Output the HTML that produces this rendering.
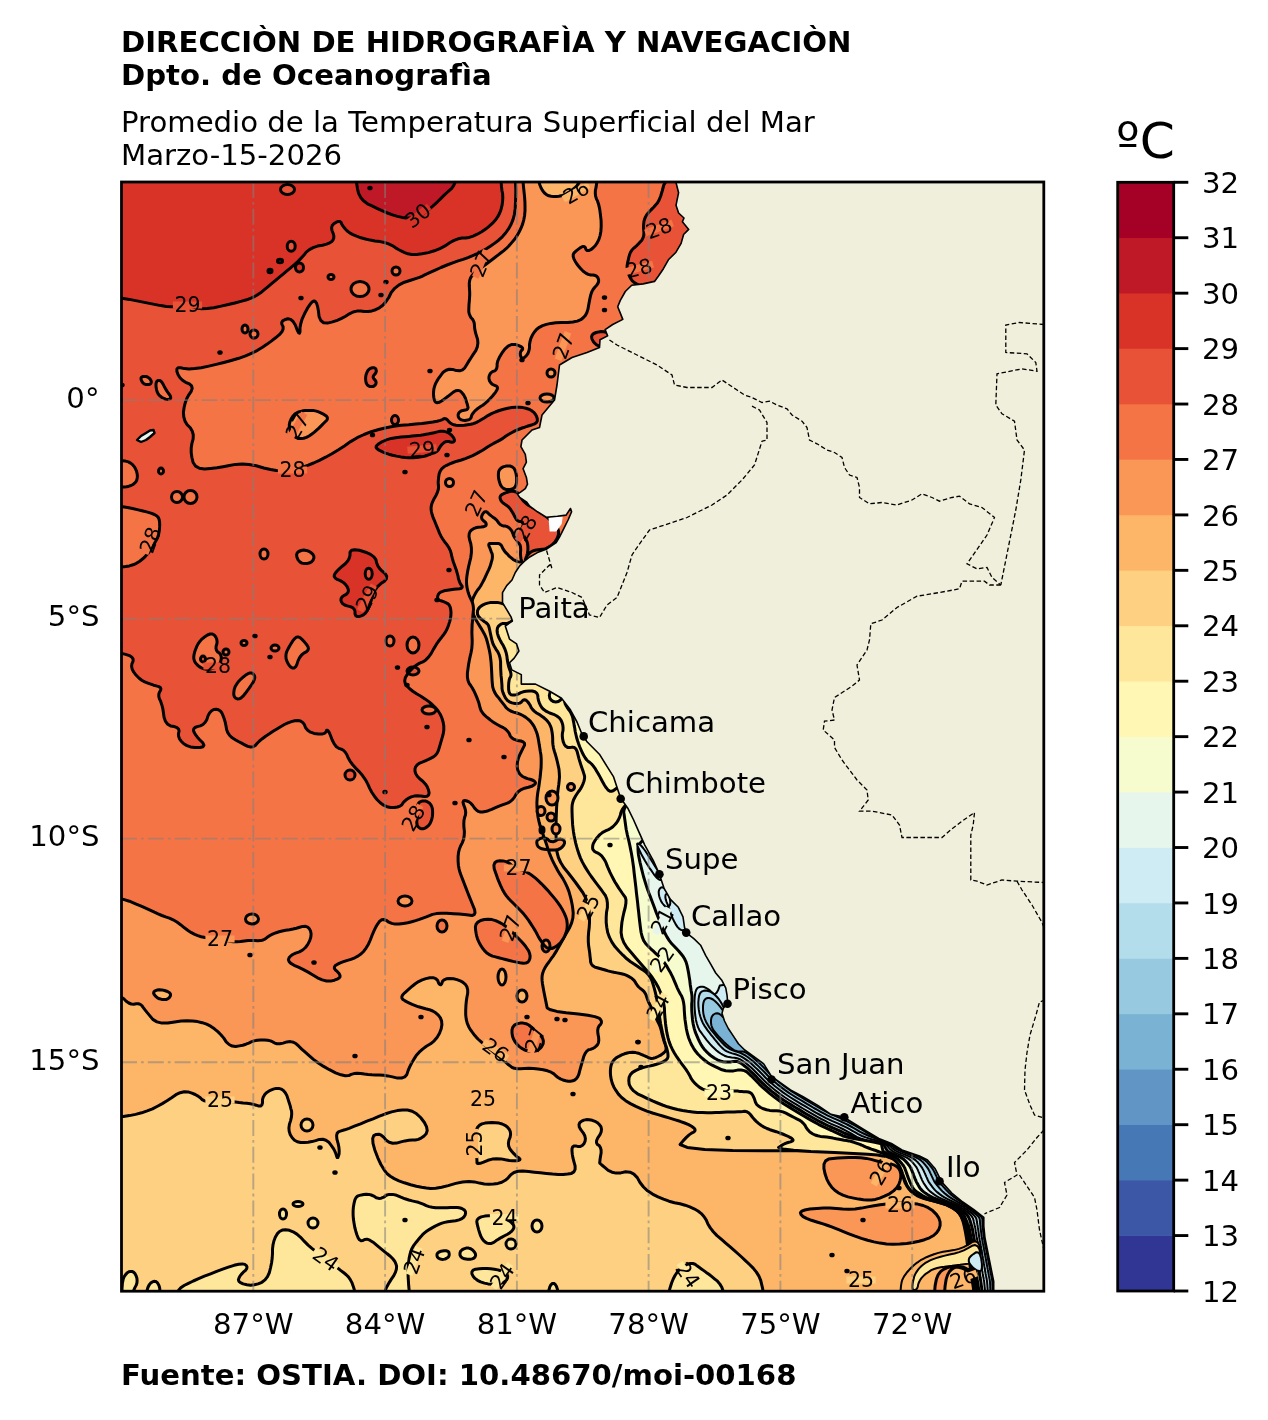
<!DOCTYPE html>
<html><head><meta charset="utf-8"><title>TSM</title>
<style>html,body{margin:0;padding:0;background:#fff;width:1268px;height:1420px;overflow:hidden}svg{display:block}text{font-family:'DejaVu Sans','Liberation Sans',sans-serif;fill:#000;font-variant-ligatures:none;font-kerning:normal}</style>
</head><body>
<svg width="1268" height="1420" viewBox="0 0 1268 1420">
<defs><clipPath id="mc"><rect x="121.5" y="182.0" width="922.3" height="1109.2"/></clipPath></defs>
<text x="121" y="51.8" font-weight="bold" font-size="29.17">DIRECCIÒN DE HIDROGRAFÌA Y NAVEGACIÒN</text>
<text x="121" y="85.1" font-weight="bold" font-size="29.17">Dpto. de Oceanografìa</text>
<text x="121" y="131.8" font-size="29.17">Promedio de la Temperatura Superficial del Mar</text>
<text x="121" y="165.1" font-size="29.17">Marzo-15-2026</text>
<text x="121" y="1384.6" font-weight="bold" font-size="29.17">Fuente: OSTIA. DOI: 10.48670/moi-00168</text>
<g clip-path="url(#mc)">
<rect x="100" y="170" width="960" height="1140" fill="#fed081"/>
<path d="M100.0,170.0L1060.0,170.0L1060.0,610.0L752.9,611.7L615.9,611.9L546.8,611.3L511.4,610.0L509.6,608.0L507.7,606.3L505.6,604.9L503.2,603.9L500.8,603.1L498.2,602.6L495.6,602.4L492.9,602.4L490.1,602.6L487.6,603.1L485.2,603.9L483.0,604.9L481.0,606.1L479.4,607.5L478.3,609.0L477.6,610.6L477.4,612.4L477.5,614.0L478.0,615.5L478.9,616.9L480.1,618.1L481.4,619.3L482.8,620.4L484.2,621.5L485.8,622.5L487.0,623.5L487.9,624.5L488.5,625.5L488.8,626.5L489.2,627.8L489.6,629.5L490.0,631.5L490.5,633.9L491.0,636.1L491.4,638.2L491.9,640.2L492.4,642.1L493.2,644.2L494.4,646.5L495.9,649.1L497.8,651.9L499.2,654.9L500.1,658.2L500.6,661.7L500.6,665.4L500.7,669.0L500.9,672.5L501.1,675.9L501.5,679.1L501.7,682.0L501.9,684.5L502.0,686.6L502.0,688.4L502.3,690.4L503.0,692.6L504.1,695.2L505.4,697.9L507.2,700.2L509.4,701.8L512.0,702.9L515.1,703.5L517.6,703.5L519.7,703.1L521.2,702.2L522.3,700.9L523.5,700.0L524.6,699.8L525.7,700.0L526.8,700.9L527.9,702.0L529.0,703.5L530.2,705.4L531.2,707.6L532.7,709.6L534.5,711.4L536.6,713.0L539.1,714.3L541.4,715.9L543.6,717.5L545.7,719.3L547.6,721.3L549.2,723.4L550.4,725.8L551.3,728.3L551.9,731.1L552.3,733.8L552.6,736.6L552.7,739.3L552.7,742.1L553.0,745.0L553.5,748.1L554.4,751.4L555.5,754.8L556.5,758.3L557.4,762.0L558.2,765.6L559.0,769.4L559.3,773.1L559.5,776.9L559.2,780.6L558.8,784.4L558.3,787.8L557.9,790.9L557.6,793.8L557.4,796.2L557.1,799.4L556.9,803.1L556.6,807.5L556.4,812.5L556.2,817.5L556.1,822.5L556.0,827.5L556.0,832.5L556.1,837.5L556.3,842.5L556.6,847.5L557.1,852.5L558.4,857.5L560.7,862.5L563.8,867.5L567.9,872.5L571.8,877.5L575.6,882.5L579.2,887.5L582.8,892.5L585.5,897.5L587.5,902.5L588.8,907.5L589.2,912.5L589.5,917.5L589.5,922.5L589.2,927.5L588.6,932.5L588.3,937.2L588.3,941.6L588.6,945.6L589.2,949.4L589.7,952.9L590.0,956.1L590.4,959.1L590.6,961.9L591.4,964.1L592.8,965.8L594.8,967.1L597.2,967.8L599.8,968.5L602.5,969.2L605.2,970.0L607.9,970.9L610.8,971.6L613.9,972.3L617.1,972.9L620.4,973.5L623.4,974.2L626.1,975.2L628.6,976.4L630.9,977.7L632.7,979.2L634.3,980.7L635.4,982.3L636.3,983.9L637.4,985.5L638.7,987.0L640.4,988.5L642.3,989.9L643.9,991.4L645.1,993.1L646.0,994.9L646.6,996.8L647.3,998.8L648.1,1000.9L649.0,1003.0L650.1,1005.2L651.2,1007.5L652.3,1009.8L653.4,1012.2L654.6,1014.8L655.7,1017.2L656.8,1019.5L657.9,1021.8L659.0,1024.0L660.0,1026.3L660.8,1028.8L661.5,1031.4L662.1,1034.2L662.8,1036.9L663.6,1039.7L664.5,1042.5L665.6,1045.2L666.1,1047.7L666.0,1049.7L665.2,1051.5L663.9,1052.8L662.2,1054.1L660.3,1055.4L658.0,1056.5L655.5,1057.6L653.3,1058.3L651.2,1058.4L649.3,1058.1L647.7,1057.2L645.8,1056.3L643.6,1055.4L641.1,1054.3L638.3,1053.2L635.6,1052.6L632.8,1052.3L630.0,1052.4L627.3,1053.0L624.5,1053.8L621.7,1054.9L619.0,1056.3L616.2,1057.9L614.0,1059.9L612.4,1062.1L611.3,1064.6L610.7,1067.3L610.4,1070.3L610.4,1073.3L610.7,1076.6L611.3,1079.9L612.3,1083.4L613.8,1086.9L615.9,1090.4L618.4,1094.1L621.6,1097.5L625.6,1100.7L630.4,1103.6L635.9,1106.4L641.4,1108.8L646.9,1111.1L652.5,1113.0L658.0,1114.6L663.5,1116.3L669.0,1117.9L674.5,1119.6L680.0,1121.3L684.7,1123.0L688.6,1124.6L691.6,1126.3L693.9,1127.9L695.0,1129.4L695.0,1130.8L693.9,1132.0L691.6,1133.1L689.1,1134.9L686.4,1137.4L683.3,1140.6L680.1,1144.5L687.2,1147.4L704.7,1149.5L732.6,1150.6L770.8,1150.7L800.4,1150.8L821.1,1150.7L833.0,1150.6L836.2,1150.2L839.3,1150.1L842.5,1150.1L845.7,1150.2L848.8,1150.6L852.0,1150.7L855.2,1150.7L858.3,1150.6L861.5,1150.2L864.6,1150.1L867.8,1150.1L870.9,1150.2L874.1,1150.6L877.2,1150.9L880.4,1151.4L883.5,1152.0L886.7,1152.6L889.6,1153.5L892.2,1154.6L894.6,1156.0L896.8,1157.6L898.6,1159.6L900.2,1161.8L901.5,1164.5L902.5,1167.5L903.6,1170.6L904.7,1173.9L905.9,1177.2L907.1,1180.8L908.6,1183.9L910.4,1186.8L912.4,1189.4L914.6,1191.6L917.2,1193.6L920.1,1195.2L923.2,1196.5L926.8,1197.5L930.2,1198.5L933.8,1199.5L937.2,1200.5L940.8,1201.5L944.1,1202.6L947.2,1203.9L950.1,1205.2L952.9,1206.8L955.3,1208.6L957.4,1210.7L959.2,1213.1L960.8,1215.9L962.1,1218.9L963.2,1222.1L964.1,1225.6L964.9,1229.4L965.6,1233.0L966.2,1236.5L966.8,1239.9L967.2,1243.1L967.8,1246.6L968.2,1250.4L968.8,1254.4L969.2,1258.6L969.8,1262.8L970.2,1266.8L970.8,1270.6L971.2,1274.4L971.8,1277.9L972.2,1281.1L972.8,1284.1L973.2,1286.9L973.6,1289.5L973.9,1292.0L974.0,1294.9L974.0,1300.0L763.4,1300.0L763.4,1294.9L763.1,1291.6L762.6,1288.4L761.7,1284.6L760.7,1280.3L758.9,1276.1L756.4,1272.1L753.2,1268.1L749.3,1264.3L745.4,1260.6L741.6,1257.0L737.7,1253.5L733.9,1250.2L729.9,1246.7L725.7,1243.1L721.5,1239.4L717.0,1235.6L713.3,1231.7L710.3,1227.9L707.9,1224.0L706.3,1220.1L704.1,1216.7L701.3,1213.6L698.0,1211.0L694.1,1208.8L689.8,1206.9L685.1,1205.2L680.0,1203.8L674.5,1202.7L669.0,1201.2L663.5,1199.2L658.0,1196.9L652.5,1194.1L647.6,1190.8L643.5,1187.0L640.0,1182.5L637.3,1177.6L633.9,1174.1L630.1,1172.2L625.6,1171.8L620.7,1172.9L616.1,1173.1L612.0,1172.2L608.2,1170.4L605.0,1167.7L602.4,1165.5L600.7,1164.0L599.8,1163.1L599.7,1162.9L599.8,1161.8L600.0,1159.8L600.4,1156.9L601.1,1153.1L601.1,1150.0L600.4,1147.5L599.2,1145.6L597.3,1144.4L596.5,1142.7L596.6,1140.5L597.8,1137.8L600.0,1134.7L601.2,1131.8L601.5,1129.1L600.9,1126.7L599.3,1124.5L597.4,1122.7L595.0,1121.3L592.3,1120.3L589.2,1119.7L586.4,1119.6L583.9,1120.1L581.7,1121.1L579.8,1122.7L579.0,1124.6L579.3,1127.0L580.8,1129.7L583.2,1132.8L584.8,1135.8L585.4,1138.6L585.1,1141.2L583.9,1143.8L582.3,1145.5L580.4,1146.4L578.2,1146.6L575.8,1145.9L573.9,1146.1L572.6,1147.0L572.0,1148.8L572.0,1151.2L572.3,1154.2L572.9,1157.7L573.9,1161.6L575.1,1165.9L575.1,1169.4L573.9,1171.9L571.4,1173.4L567.6,1174.1L563.2,1174.4L558.2,1174.4L552.6,1174.1L546.4,1173.4L540.3,1172.8L534.3,1172.2L528.6,1171.6L522.9,1170.9L518.1,1171.2L514.0,1172.5L510.8,1174.7L508.2,1177.8L505.3,1180.3L501.8,1182.2L497.9,1183.4L493.6,1184.1L489.0,1184.2L484.3,1183.9L479.5,1183.1L474.5,1181.9L468.9,1181.5L462.6,1182.0L455.8,1183.4L448.2,1185.6L441.6,1187.2L435.7,1188.2L430.6,1188.4L426.4,1188.1L421.6,1187.3L416.4,1186.2L410.6,1184.7L404.4,1182.8L398.9,1180.8L394.2,1178.6L390.3,1176.2L387.2,1173.8L384.1,1169.8L380.9,1164.5L377.8,1157.8L374.7,1149.7L373.0,1143.3L372.7,1138.6L373.8,1135.6L376.2,1134.4L378.8,1134.2L381.2,1135.2L383.8,1137.2L386.2,1140.3L389.2,1142.3L392.7,1143.3L396.6,1143.1L400.9,1141.9L405.0,1140.9L408.8,1140.3L412.2,1140.0L415.3,1140.0L418.3,1139.4L421.1,1138.1L423.8,1136.2L426.2,1133.8L427.2,1130.6L426.6,1126.9L424.4,1122.5L420.6,1117.5L416.6,1113.8L412.2,1111.2L407.5,1110.0L402.5,1110.0L397.2,1110.6L391.6,1111.9L385.6,1113.8L379.4,1116.2L373.1,1118.8L366.9,1121.2L360.6,1123.8L354.4,1126.2L349.1,1128.3L344.7,1129.8L341.2,1130.9L338.8,1131.6L337.2,1133.1L336.6,1135.6L336.9,1139.1L338.1,1143.4L338.9,1147.3L339.2,1150.8L339.1,1153.8L338.4,1156.2L337.8,1157.5L337.2,1157.5L336.6,1156.2L335.9,1153.8L334.8,1151.1L333.3,1148.3L331.2,1145.3L328.8,1142.2L325.9,1140.2L322.8,1139.2L319.4,1139.4L315.6,1140.6L311.9,1141.6L308.1,1142.2L304.4,1142.5L300.6,1142.5L297.3,1141.7L294.5,1140.2L292.2,1137.8L290.3,1134.7L289.2,1131.4L288.9,1128.0L289.4,1124.4L290.6,1120.6L291.4,1117.2L291.7,1114.1L291.6,1111.2L290.9,1108.8L290.2,1105.9L289.2,1102.8L288.1,1099.4L286.9,1095.6L285.3,1092.7L283.4,1090.5L281.2,1089.1L278.8,1088.4L276.1,1088.4L273.3,1089.1L270.3,1090.3L267.2,1092.2L264.8,1094.4L263.3,1096.9L262.5,1099.7L262.5,1102.8L261.9,1104.9L260.6,1106.0L258.8,1106.1L256.2,1105.2L253.4,1104.4L250.3,1103.8L246.9,1103.3L243.1,1103.0L239.2,1102.6L235.2,1102.1L230.9,1101.6L226.6,1100.9L222.3,1100.6L218.3,1100.6L214.4,1100.9L210.6,1101.6L207.3,1101.6L204.5,1100.9L202.2,1099.7L200.3,1097.8L198.0,1096.1L195.2,1094.5L191.9,1093.1L188.1,1091.9L184.2,1091.7L180.2,1092.7L175.9,1094.7L171.6,1097.8L167.0,1100.8L162.3,1103.6L157.5,1106.2L152.5,1108.8L147.2,1110.9L141.6,1112.8L135.6,1114.4L129.4,1115.6L123.4,1116.6L117.8,1117.2L111.2,1117.5L100.0,1117.5ZM476.2,1130.6L477.4,1127.6L479.3,1125.4L481.9,1123.9L485.1,1123.1L488.5,1122.7L491.9,1122.5L495.4,1122.7L499.1,1123.1L502.2,1124.0L505.0,1125.3L507.3,1127.0L509.2,1129.2L510.3,1131.6L510.6,1134.3L510.1,1137.2L508.9,1140.3L508.4,1143.3L508.7,1146.1L509.8,1148.8L511.7,1151.2L513.6,1153.4L515.4,1155.3L517.3,1156.9L519.2,1158.1L520.0,1159.1L519.7,1159.9L518.2,1160.5L515.8,1160.8L512.8,1160.8L509.3,1160.5L505.4,1159.8L501.1,1158.9L496.7,1158.7L492.3,1159.1L487.9,1160.3L483.6,1162.2L480.3,1163.3L478.1,1163.6L477.0,1163.1L477.0,1161.9L476.9,1159.7L476.6,1156.6L476.2,1152.5L475.8,1147.5L475.5,1142.8L475.5,1138.4L475.8,1134.4ZM301.0,1125.0a6.0,6.0 0 1,0 12.0,0a6.0,6.0 0 1,0 -12.0,0Z" fill="#fdb668" fill-rule="evenodd" stroke="#000" stroke-width="3.0" stroke-linejoin="round"/>
<path d="M100.0,170.0L1060.0,170.0L1060.0,560.0L761.9,560.0L628.8,560.1L561.5,560.5L526.8,560.9L524.7,561.5L522.7,561.9L520.8,562.0L519.1,561.9L517.6,561.6L516.0,561.0L514.4,560.2L512.8,559.2L511.3,557.9L509.7,556.6L508.2,555.1L506.8,553.6L505.3,552.1L504.1,550.5L503.1,548.9L502.2,547.3L501.6,545.8L500.6,544.6L499.3,543.8L497.8,543.4L495.8,543.4L494.1,543.4L492.5,543.4L491.1,543.4L489.9,543.4L489.1,543.8L488.8,544.6L488.9,545.8L489.6,547.3L490.2,548.9L490.8,550.5L491.4,552.1L492.1,553.6L492.4,555.4L492.4,557.4L492.1,559.6L491.4,561.9L490.9,564.0L490.3,565.8L489.8,567.2L489.3,568.3L488.5,570.1L487.3,572.6L485.8,575.8L484.0,579.8L482.2,583.1L480.6,586.0L479.1,588.3L477.6,590.0L476.3,592.0L475.1,594.1L473.9,596.4L472.8,598.9L472.1,601.5L471.8,604.1L471.8,606.9L472.1,609.7L472.8,612.5L473.7,615.1L474.8,617.7L476.2,620.2L477.7,622.8L479.3,625.4L481.0,628.1L482.7,631.0L484.2,633.7L485.5,636.4L486.5,639.0L487.2,641.5L487.9,644.2L488.6,647.2L489.4,650.5L490.1,654.1L490.6,658.0L491.1,662.4L491.4,667.1L491.7,672.3L491.9,676.8L492.1,680.8L492.4,684.1L492.7,686.9L493.5,689.6L494.7,692.4L496.4,695.2L498.7,697.9L500.7,700.6L502.7,703.1L504.5,705.4L506.1,707.6L508.2,709.5L510.7,711.0L513.5,712.1L516.9,713.0L520.0,714.1L522.8,715.5L525.5,717.1L528.0,719.1L530.3,721.2L532.2,723.6L533.9,726.1L535.2,728.9L536.4,731.8L537.4,734.8L538.1,737.9L538.7,741.2L539.2,744.6L539.8,748.0L540.3,751.4L540.9,754.8L541.2,758.7L541.2,762.9L541.1,767.5L540.6,772.5L540.1,777.5L539.4,782.5L538.7,787.5L537.8,792.5L537.2,797.5L536.9,802.5L537.0,807.5L537.4,812.5L538.1,817.5L539.2,822.5L540.6,827.5L542.4,832.5L544.0,837.2L545.5,841.6L546.9,845.6L548.1,849.4L549.4,853.0L550.8,856.5L552.2,859.9L553.8,863.1L555.6,866.6L557.7,870.4L560.1,874.4L562.9,878.6L565.2,882.9L567.2,887.1L568.9,891.4L570.1,895.6L571.2,899.9L572.1,904.3L572.8,908.8L573.2,913.2L572.9,917.9L571.7,922.6L569.7,927.5L566.8,932.5L564.2,937.0L562.0,941.0L560.1,944.5L558.4,947.5L556.8,950.4L555.1,953.1L553.4,955.8L551.6,958.2L550.0,960.5L548.6,962.5L547.3,964.2L546.2,965.8L545.2,967.4L544.3,969.2L543.4,971.1L542.7,973.2L542.2,975.4L542.0,977.8L542.1,980.4L542.4,983.2L542.9,986.2L543.5,989.6L544.2,993.2L545.0,997.2L545.7,1000.6L546.3,1003.6L546.8,1006.1L547.2,1008.0L550.6,1009.8L556.9,1011.4L566.1,1012.8L578.4,1013.9L587.9,1015.2L594.8,1016.6L599.1,1018.1L600.6,1019.6L601.4,1021.2L601.4,1022.8L600.6,1024.4L599.1,1025.9L598.1,1028.0L597.7,1030.6L597.9,1033.6L598.6,1037.2L598.8,1040.2L598.4,1042.8L597.4,1044.9L595.9,1046.4L594.2,1047.7L592.4,1048.7L590.5,1049.4L588.6,1049.8L586.8,1051.1L585.2,1053.3L583.8,1056.3L582.7,1060.3L581.6,1064.0L580.6,1067.6L579.7,1070.9L578.9,1074.1L577.8,1076.6L576.4,1078.6L574.7,1080.0L572.8,1080.8L570.6,1081.2L568.2,1081.2L565.7,1080.8L562.9,1080.0L560.4,1078.9L558.0,1077.5L555.8,1075.8L553.9,1073.9L551.1,1072.2L547.5,1070.8L543.2,1069.7L538.1,1069.0L533.3,1068.5L528.7,1068.3L524.5,1068.4L520.5,1068.7L517.2,1068.7L514.4,1068.3L512.2,1067.5L510.7,1066.4L508.6,1064.8L506.2,1062.7L503.3,1060.2L500.0,1057.3L496.6,1054.5L493.3,1051.8L489.9,1049.1L486.6,1046.4L483.5,1044.0L480.9,1041.7L478.5,1039.5L476.6,1037.6L474.6,1035.3L472.6,1032.7L470.6,1029.9L468.7,1026.7L467.2,1023.2L466.2,1019.2L465.7,1014.9L465.7,1010.2L465.9,1005.7L466.3,1001.3L466.9,997.2L467.7,993.2L467.7,989.8L466.9,986.8L465.3,984.3L463.0,982.4L460.2,980.8L457.0,979.6L453.5,978.8L449.6,978.5L446.4,978.8L444.1,979.8L442.5,981.4L441.7,983.8L440.8,984.8L439.8,984.6L438.7,983.2L437.6,980.4L435.7,978.6L433.1,977.7L429.9,977.7L425.9,978.6L422.2,979.9L418.6,981.6L415.3,983.8L412.2,986.2L409.4,988.6L406.9,990.8L404.7,992.8L402.8,994.7L401.9,996.4L401.9,998.0L402.8,999.4L404.7,1000.6L406.9,1001.9L409.4,1003.1L412.2,1004.4L415.3,1005.6L418.6,1006.8L422.0,1007.8L425.6,1008.8L429.4,1009.7L432.7,1011.0L435.7,1012.8L438.3,1015.1L440.4,1017.9L441.6,1021.1L441.9,1024.7L441.2,1028.8L439.5,1033.2L437.2,1037.2L434.2,1040.8L430.6,1043.8L426.4,1046.2L422.6,1049.1L419.2,1052.2L416.2,1055.6L413.8,1059.4L411.6,1063.1L409.7,1066.9L408.1,1070.6L406.9,1074.4L404.7,1076.9L401.6,1078.1L397.5,1078.1L392.5,1076.9L387.8,1075.9L383.4,1075.3L379.4,1075.0L375.6,1075.0L371.9,1074.8L368.1,1074.5L364.4,1074.1L360.6,1073.4L357.2,1073.3L354.1,1073.6L351.2,1074.4L348.8,1075.6L345.3,1075.8L340.9,1074.8L335.6,1072.8L329.4,1069.7L323.6,1066.4L318.3,1063.0L313.4,1059.4L309.1,1055.6L305.2,1052.2L301.7,1049.1L298.8,1046.2L296.2,1043.8L293.4,1042.2L290.3,1041.6L286.9,1041.9L283.1,1043.1L279.8,1043.8L277.0,1043.8L274.7,1043.1L272.8,1041.9L270.5,1040.9L267.7,1040.3L264.4,1040.0L260.6,1040.0L257.2,1040.3L254.1,1040.9L251.2,1041.9L248.8,1043.1L245.9,1044.2L242.8,1045.2L239.4,1045.9L235.6,1046.6L232.2,1046.1L229.1,1044.5L226.2,1041.9L223.8,1038.1L220.9,1034.7L217.8,1031.6L214.4,1028.8L210.6,1026.2L206.6,1024.2L202.2,1022.7L197.5,1021.6L192.5,1020.9L187.0,1020.8L181.1,1021.1L174.7,1021.9L167.8,1023.1L161.9,1023.1L156.9,1021.9L152.8,1019.4L149.7,1015.6L147.0,1012.4L144.8,1009.6L143.1,1007.4L141.9,1005.6L140.3,1004.4L138.4,1003.8L136.2,1003.8L133.8,1004.2L131.2,1004.0L128.8,1003.0L126.2,1001.2L123.8,998.8L120.6,996.9L116.9,995.6L111.2,995.0L100.0,995.0ZM538.0,170.0L538.4,177.8L539.0,181.9L539.9,185.0L541.1,188.0L542.7,190.8L544.5,193.0L546.5,194.7L548.8,195.8L551.2,196.2L553.8,196.5L556.2,196.5L558.8,196.2L561.2,195.8L563.8,194.9L566.2,193.8L568.8,192.4L571.2,190.6L573.4,188.9L575.3,187.3L576.9,185.8L578.1,184.2L579.1,182.4L579.7,180.1L580.0,176.8L580.0,170.0ZM800.4,1212.8L801.7,1211.2L804.8,1210.0L809.8,1209.1L816.7,1208.4L823.4,1208.1L830.0,1208.1L836.4,1208.4L842.6,1209.1L848.9,1209.2L855.1,1208.9L861.4,1208.1L867.6,1206.9L873.9,1205.8L880.1,1204.8L886.4,1204.1L892.6,1203.4L898.9,1203.1L905.1,1203.1L911.4,1203.4L917.6,1204.1L923.2,1205.5L928.2,1207.7L932.6,1210.6L936.4,1214.4L938.9,1218.1L940.1,1221.9L940.1,1225.6L938.9,1229.4L936.7,1232.7L933.6,1235.5L929.5,1237.8L924.5,1239.7L919.0,1241.2L913.1,1242.5L906.7,1243.4L899.8,1244.1L893.1,1244.2L886.5,1243.9L880.1,1243.1L873.9,1241.9L867.6,1240.3L861.4,1238.4L855.1,1236.2L848.9,1233.8L843.4,1231.6L838.7,1229.7L834.8,1228.1L831.7,1226.9L827.8,1225.5L823.1,1223.9L817.6,1222.2L811.4,1220.3L806.5,1218.4L803.1,1216.6L801.1,1214.7ZM823.9,1168.4L824.0,1164.1L825.6,1160.9L828.6,1159.1L832.9,1158.4L837.8,1158.0L843.1,1157.7L848.9,1157.5L855.1,1157.5L860.9,1157.8L866.2,1158.4L871.1,1159.4L875.4,1160.6L879.7,1161.7L883.7,1162.7L887.6,1163.4L891.4,1164.1L894.5,1165.2L897.0,1166.7L898.9,1168.8L900.1,1171.2L900.8,1174.1L900.8,1177.2L900.1,1180.6L898.9,1184.4L896.7,1187.8L893.6,1190.9L889.5,1193.8L884.5,1196.2L879.8,1198.1L875.4,1199.4L871.4,1200.0L867.6,1200.0L863.4,1199.7L858.7,1199.1L853.6,1198.1L847.9,1196.9L842.9,1195.2L838.6,1193.0L834.8,1190.3L831.7,1187.2L829.0,1183.4L826.8,1179.1L825.1,1174.1ZM944.0,1300.0L945.1,1285.9L946.2,1279.1L947.6,1274.9L949.4,1271.6L951.6,1269.4L954.1,1267.8L956.9,1266.9L959.9,1266.8L963.1,1267.2L966.1,1268.4L968.7,1270.1L971.0,1272.5L973.0,1275.5L974.6,1279.0L975.9,1283.0L976.9,1288.8L978.0,1300.0ZM934.0,1300.0L935.1,1285.9L936.4,1279.1L938.1,1274.9L940.5,1271.6L943.5,1269.4L946.8,1267.8L950.4,1266.9L954.4,1266.8L958.6,1267.2L962.6,1268.4L966.4,1270.1L969.9,1272.5L973.1,1275.5L975.7,1279.0L977.6,1283.0L978.9,1288.8L980.0,1300.0ZM154.2,994.6L153.6,993.1L153.9,991.9L155.0,990.9L157.0,990.1L159.2,989.8L161.8,989.9L164.5,990.5L167.5,991.5L169.5,992.7L170.5,994.1L170.5,995.6L169.5,997.4L168.1,998.6L166.4,999.4L164.2,999.6L161.8,999.4L159.5,998.8L157.5,997.8L155.8,996.4ZM498.0,977.0a4.0,8.0 0 1,0 8.0,0a4.0,8.0 0 1,0 -8.0,0ZM517.0,996.0a5.0,6.0 0 1,0 10.0,0a5.0,6.0 0 1,0 -10.0,0ZM546.0,798.0a6.0,7.0 0 1,0 12.0,0a6.0,7.0 0 1,0 -12.0,0ZM567.5,787.0a3.5,3.5 0 1,0 7.0,0a3.5,3.5 0 1,0 -7.0,0ZM537.0,811.0a4.0,4.5 0 1,0 8.0,0a4.0,4.5 0 1,0 -8.0,0ZM547.0,817.0a4.0,4.0 0 1,0 8.0,0a4.0,4.0 0 1,0 -8.0,0ZM540.0,830.0a2.0,3.0 0 1,0 4.0,0a2.0,3.0 0 1,0 -4.0,0ZM552.0,829.0a4.0,5.0 0 1,0 8.0,0a4.0,5.0 0 1,0 -8.0,0ZM536.8,843.0L536.9,841.3L537.8,839.9L539.4,838.9L541.6,838.1L543.8,837.9L545.8,838.3L547.6,839.2L549.4,840.8L551.2,841.6L553.1,841.7L555.0,841.1L557.0,839.9L558.9,839.2L560.6,839.1L562.2,839.5L563.8,840.5L564.5,841.8L564.5,843.2L563.8,845.0L562.2,847.0L560.4,848.5L558.1,849.5L555.5,850.0L552.5,850.0L549.6,849.9L546.9,849.6L544.2,849.2L541.8,848.8L539.8,847.9L538.2,846.6L537.2,845.0Z" fill="#fa9656" fill-rule="evenodd" stroke="#000" stroke-width="3.0" stroke-linejoin="round"/>
<path d="M100.0,170.0L523.0,170.0L523.0,177.8L523.1,182.2L523.4,185.8L523.8,189.5L524.2,193.3L524.6,197.3L524.9,201.6L525.0,206.1L525.0,210.8L524.6,215.4L523.8,219.8L522.6,224.1L521.0,228.2L519.1,232.1L516.9,235.9L514.4,239.5L511.5,242.9L508.8,246.0L506.1,248.7L503.5,250.9L501.0,252.8L498.3,254.9L495.5,257.0L492.6,259.2L489.6,261.5L486.6,263.8L483.6,266.0L480.6,268.1L477.6,270.2L475.1,272.3L473.1,274.3L471.6,276.2L470.4,278.1L469.7,280.4L469.3,282.9L469.3,285.7L469.5,288.9L469.7,292.0L469.7,295.2L469.5,298.3L469.3,301.5L469.0,304.4L468.9,307.1L468.8,309.5L468.8,311.7L469.2,313.7L469.9,315.6L470.9,317.4L472.3,318.9L473.4,320.7L474.1,322.5L474.4,324.6L474.5,326.7L474.8,329.3L475.4,332.3L476.4,335.6L477.6,339.4L477.9,343.1L477.3,346.9L475.8,350.6L473.2,354.4L470.9,358.0L468.7,361.4L466.7,364.7L464.8,367.8L462.5,369.8L459.7,370.8L456.4,370.6L452.6,369.4L449.2,369.2L446.1,370.2L443.2,372.2L440.8,375.3L438.6,378.3L436.9,381.1L435.5,383.7L434.6,386.2L433.9,388.8L433.6,391.5L433.5,394.4L433.8,397.5L434.3,399.8L435.0,401.4L435.8,402.4L437.0,402.7L438.3,402.6L439.8,402.0L441.5,401.0L443.5,399.7L445.6,398.1L448.0,396.3L450.5,394.3L453.3,392.1L455.7,390.8L457.9,390.4L459.9,390.9L461.5,392.2L463.0,393.9L464.2,395.8L465.3,398.0L466.1,400.5L466.8,402.7L467.4,404.6L467.8,406.3L468.1,407.6L467.7,408.7L466.8,409.6L465.2,410.1L462.9,410.4L461.1,411.0L459.7,411.9L458.8,413.0L458.2,414.3L458.1,415.6L458.4,416.9L459.0,418.0L460.2,419.2L461.5,419.9L463.2,420.3L465.1,420.4L467.4,420.1L469.1,419.6L470.3,418.7L471.1,417.6L471.4,416.3L471.9,414.9L472.8,413.5L473.9,412.1L475.2,410.7L476.8,409.3L478.6,407.9L480.6,406.5L482.8,405.2L485.1,403.4L487.4,401.4L489.8,399.0L492.3,396.2L494.3,393.8L495.8,391.8L496.9,390.0L497.4,388.7L497.5,387.5L496.9,386.5L495.8,385.8L494.1,385.2L492.7,384.5L491.4,383.5L490.4,382.3L489.5,380.9L489.1,379.4L488.9,377.9L489.1,376.3L489.7,374.7L490.5,373.3L491.6,372.2L493.0,371.4L494.7,370.8L495.9,369.8L496.7,368.3L497.1,366.2L497.1,363.8L497.8,360.8L499.4,357.3L501.7,353.4L504.8,349.1L508.1,346.1L511.5,344.5L515.1,344.4L518.9,345.6L521.4,346.9L522.6,348.1L522.6,349.4L521.4,350.6L520.6,352.0L520.3,353.6L520.4,355.3L521.1,357.2L522.0,358.1L523.2,358.1L524.8,357.2L526.7,355.3L528.1,353.1L529.0,350.6L529.5,347.8L529.5,344.7L530.0,341.6L530.9,338.4L532.3,335.3L534.2,332.2L536.5,329.5L539.3,327.3L542.6,325.6L546.4,324.4L550.8,323.4L555.8,322.8L561.4,322.5L567.6,322.5L572.9,322.0L577.3,321.1L580.8,319.7L583.2,317.8L585.3,315.5L586.8,312.7L587.9,309.4L588.6,305.6L589.2,302.2L589.8,299.1L590.4,296.2L591.1,293.8L592.0,291.4L593.2,289.2L594.8,287.2L596.7,285.3L597.9,283.4L598.6,281.6L598.6,279.7L597.9,277.8L596.8,276.4L595.3,275.5L593.2,275.0L590.8,275.0L588.2,274.4L585.8,273.1L583.2,271.2L580.8,268.8L578.6,266.2L576.7,263.8L575.1,261.2L573.9,258.8L573.2,256.6L573.2,254.7L573.9,253.1L575.1,251.9L576.5,250.6L578.1,249.4L579.8,248.1L581.7,246.9L583.2,246.4L584.5,246.7L585.4,247.8L586.1,249.7L587.2,250.6L588.7,250.6L590.8,249.7L593.2,247.8L595.4,245.5L597.3,242.7L598.9,239.4L600.1,235.6L600.9,231.2L601.2,226.2L601.1,220.6L600.4,214.4L599.7,209.1L598.7,204.7L597.6,201.2L596.4,198.8L595.6,196.1L595.3,193.3L595.4,190.3L596.1,187.2L596.5,184.1L596.8,180.9L597.0,177.0L597.0,170.0L1060.0,170.0L1060.0,560.0L761.9,561.1L628.9,561.7L561.6,562.1L527.0,562.4L525.0,562.6L523.4,562.4L522.2,561.6L521.4,560.4L520.9,558.6L520.7,556.7L520.5,554.7L520.5,552.4L520.7,550.1L520.6,548.0L520.4,546.3L520.0,544.8L519.3,543.8L518.6,542.6L517.7,541.4L516.7,540.2L515.6,538.9L514.6,537.6L513.8,536.1L513.2,534.6L512.7,533.1L512.1,531.6L511.3,530.3L510.3,529.1L509.2,527.9L508.0,527.1L506.6,526.4L505.0,526.0L503.2,525.9L501.6,525.3L500.2,524.5L499.0,523.2L497.8,521.7L496.7,520.2L495.4,519.0L494.1,517.9L492.6,516.9L491.2,515.9L489.9,514.8L488.6,513.6L487.3,512.3L486.1,511.7L485.0,511.7L484.0,512.3L483.0,513.6L482.3,514.8L481.8,515.9L481.6,516.9L481.6,517.9L481.9,518.8L482.6,519.8L483.5,520.7L484.8,521.7L485.7,522.6L486.1,523.6L486.2,524.5L485.9,525.5L484.9,526.2L483.3,526.8L481.1,527.1L478.3,527.3L475.7,527.8L473.5,528.7L471.6,529.9L470.1,531.5L469.2,533.7L469.0,536.5L469.6,539.8L470.8,543.8L471.4,548.0L471.4,552.5L470.8,557.3L469.6,562.4L468.5,567.0L467.7,571.1L467.1,574.8L466.7,577.9L466.5,581.0L466.6,584.0L466.9,586.9L467.5,589.7L468.2,592.5L469.2,595.3L470.4,598.1L471.8,601.0L472.8,603.8L473.3,606.6L473.5,609.4L473.2,612.3L472.9,615.2L472.7,618.3L472.4,621.6L472.1,624.9L472.0,628.5L471.9,632.3L472.0,636.3L472.2,640.4L472.1,644.5L471.8,648.5L471.1,652.3L470.2,656.1L469.4,660.0L468.6,664.2L468.0,668.6L467.4,673.1L467.4,677.1L468.0,680.5L469.1,683.3L470.7,685.5L472.3,688.0L473.8,690.7L475.3,693.8L476.7,697.1L477.9,700.2L478.9,703.1L479.6,705.8L480.2,708.3L481.1,710.6L482.5,712.8L484.3,714.9L486.5,716.8L488.6,718.5L490.5,720.1L492.3,721.4L493.9,722.5L495.9,723.7L498.1,725.0L500.6,726.3L503.3,727.6L505.7,729.3L507.6,731.2L509.2,733.4L510.2,735.9L512.0,737.9L514.3,739.4L517.3,740.4L520.8,741.0L523.2,741.9L524.5,743.3L524.6,745.1L523.4,747.4L522.3,749.6L521.2,751.9L520.1,754.2L519.0,756.5L518.2,758.9L517.6,761.4L517.3,763.9L517.2,766.5L517.5,768.9L518.1,771.0L519.1,773.0L520.4,774.7L522.2,776.2L524.6,777.5L527.5,778.6L530.9,779.5L533.4,780.5L534.9,781.6L535.5,782.8L535.0,784.1L533.7,785.2L531.6,786.3L528.5,787.3L524.6,788.2L521.3,789.6L518.5,791.5L516.2,794.0L514.5,797.1L512.5,799.6L510.4,801.5L508.0,802.9L505.3,803.8L502.4,804.9L499.1,806.2L495.5,807.7L491.7,809.4L488.2,810.7L485.2,811.6L482.6,812.0L480.4,812.0L478.4,811.4L476.4,810.0L474.6,808.1L472.8,805.5L471.0,803.4L469.0,801.9L466.9,801.0L464.8,800.5L463.5,801.0L463.0,802.3L463.5,804.4L464.7,807.5L465.5,810.3L465.7,812.9L465.4,815.3L464.6,817.4L464.0,820.2L463.8,823.4L463.9,827.2L464.4,831.6L464.2,835.6L463.6,839.3L462.4,842.6L460.7,845.7L459.4,849.0L458.5,852.7L458.1,856.7L458.1,861.1L458.4,865.2L459.1,869.1L460.1,872.8L461.4,876.2L462.8,879.9L464.3,883.8L465.9,887.9L467.6,892.3L469.3,896.6L471.1,901.0L472.8,905.3L474.6,909.6L475.0,912.8L474.2,914.7L472.0,915.5L468.5,915.0L464.3,914.6L459.2,914.1L453.4,913.7L446.9,913.2L441.2,913.2L436.4,913.6L432.5,914.4L429.5,915.6L426.3,916.9L422.9,918.1L419.4,919.4L415.6,920.6L411.7,921.7L407.7,922.7L403.4,923.4L399.1,924.1L395.2,924.1L391.7,923.4L388.8,922.2L386.2,920.3L383.9,919.5L381.7,919.8L379.7,921.2L377.8,923.8L375.9,926.9L374.1,930.6L372.2,935.0L370.3,940.0L368.3,944.4L366.1,948.1L363.8,951.2L361.2,953.8L358.3,955.9L354.8,957.8L350.9,959.4L346.6,960.6L342.8,961.9L339.7,963.1L337.2,964.4L335.3,965.6L334.4,967.0L334.4,968.4L335.3,969.8L337.2,971.4L338.6,972.9L339.5,974.3L340.0,975.6L340.0,976.9L339.1,978.0L337.2,979.1L334.4,980.2L330.6,981.1L326.6,981.0L322.2,979.9L317.5,977.8L312.5,974.7L307.7,971.9L303.0,969.4L298.4,967.2L294.1,965.3L290.9,963.4L289.1,961.6L288.4,959.7L289.1,957.8L290.5,956.1L292.7,954.5L295.6,953.1L299.4,951.9L302.7,950.0L305.5,947.5L307.8,944.4L309.7,940.6L310.8,937.2L311.1,934.1L310.6,931.2L309.4,928.8L307.7,927.1L305.5,926.3L302.8,926.4L299.7,927.3L296.4,928.2L293.0,929.0L289.4,929.7L285.6,930.3L282.2,931.0L279.1,931.8L276.2,932.7L273.8,933.6L271.4,934.7L269.2,935.9L267.2,937.3L265.3,938.9L263.1,940.0L260.6,940.6L257.8,940.8L254.7,940.5L251.4,940.4L248.0,940.5L244.4,940.9L240.6,941.6L236.9,941.8L233.1,941.7L229.4,941.2L225.6,940.3L221.7,939.6L217.7,938.9L213.4,938.4L209.1,938.1L205.0,937.5L201.2,936.7L197.8,935.6L194.7,934.4L191.4,932.7L188.0,930.5L184.4,927.8L180.6,924.7L176.9,922.0L173.1,919.8L169.4,918.1L165.6,916.9L161.9,915.5L158.1,913.9L154.4,912.2L150.6,910.3L146.2,908.3L141.2,906.1L135.6,903.8L129.4,901.2L123.4,899.4L117.8,898.1L111.2,897.5L100.0,897.5ZM475.4,926.9L476.1,924.2L477.9,922.1L480.6,920.5L484.4,919.5L488.1,919.2L491.9,919.6L495.6,920.6L499.4,922.4L502.8,924.3L505.9,926.4L508.8,928.8L511.2,931.2L513.8,933.8L516.2,936.2L518.8,938.8L521.2,941.2L523.5,943.8L525.5,946.2L527.2,948.8L528.8,951.2L529.7,953.7L530.1,956.1L529.9,958.4L529.1,960.6L527.8,962.2L525.8,963.1L523.1,963.2L519.9,962.8L516.5,962.1L513.0,961.4L509.4,960.5L505.6,959.5L502.1,958.6L498.7,957.7L495.5,956.9L492.5,956.1L489.8,954.9L487.2,953.3L485.0,951.2L483.0,948.8L481.2,946.2L479.8,943.8L478.5,941.2L477.5,938.8L476.7,936.1L476.1,933.2L475.6,930.1ZM494.2,868.8L493.9,865.2L494.8,862.8L496.9,861.2L500.1,860.8L503.2,860.9L506.1,861.6L508.8,863.0L511.2,865.0L513.9,866.8L516.8,868.2L519.9,869.5L523.1,870.5L526.3,871.9L529.4,873.6L532.5,875.8L535.5,878.2L538.5,880.9L541.5,883.8L544.5,886.9L547.5,890.1L550.4,893.4L553.1,896.6L555.8,899.9L558.2,903.1L560.5,906.4L562.5,909.8L564.2,913.2L565.8,916.8L566.8,920.2L567.2,923.6L567.2,926.9L566.8,930.1L565.9,933.2L564.6,936.2L563.0,939.1L561.0,941.9L558.9,944.2L556.6,946.1L554.2,947.5L551.8,948.5L549.4,948.6L547.1,947.9L545.0,946.2L543.0,943.8L541.2,941.2L539.6,938.8L538.1,936.2L536.9,933.8L535.3,930.9L533.4,927.8L531.2,924.4L528.8,920.6L526.2,917.2L523.8,914.1L521.2,911.2L518.8,908.8L516.2,906.2L513.8,903.8L511.2,901.2L508.8,898.8L506.4,895.9L504.3,892.8L502.4,889.4L500.6,885.6L498.9,881.7L497.3,877.6L495.8,873.2ZM512.0,1029.9L512.8,1027.2L514.4,1025.2L516.9,1023.9L520.1,1023.1L523.2,1023.1L526.1,1023.7L528.8,1025.0L531.2,1027.0L533.8,1029.1L536.2,1031.4L538.8,1033.8L541.2,1036.2L542.8,1038.8L543.4,1041.2L543.1,1043.8L541.9,1046.2L540.3,1048.2L538.4,1049.8L536.2,1050.8L533.8,1051.2L531.2,1051.4L528.8,1051.1L526.2,1050.5L523.8,1049.5L521.4,1048.1L519.1,1046.4L517.0,1044.2L515.0,1041.8L513.5,1039.1L512.5,1036.2L512.0,1033.1ZM542.0,946.0a4.0,6.0 0 1,0 8.0,0a4.0,6.0 0 1,0 -8.0,0ZM498.6,471.8L499.5,469.7L501.0,468.1L503.1,466.9L505.9,466.1L508.3,465.9L510.4,466.1L512.2,466.9L513.8,468.1L514.9,470.0L515.8,472.5L516.4,475.6L516.6,479.4L516.5,482.5L516.0,485.0L515.1,486.9L513.9,488.1L512.3,489.0L510.4,489.5L508.2,489.6L505.8,489.4L503.6,488.5L501.9,487.0L500.5,484.9L499.5,482.1L498.8,479.4L498.4,476.8L498.4,474.2ZM540.0,398.0a7.0,4.0 0 1,0 14.0,0a7.0,4.0 0 1,0 -14.0,0ZM547.0,373.0a4.0,4.0 0 1,0 8.0,0a4.0,4.0 0 1,0 -8.0,0ZM445.5,482.5a4.0,4.0 0 1,0 8.0,0a4.0,4.0 0 1,0 -8.0,0ZM245.5,919.0a6.5,5.0 0 1,0 13.0,0a6.5,5.0 0 1,0 -13.0,0ZM398.0,901.0a7.0,5.0 0 1,0 14.0,0a7.0,5.0 0 1,0 -14.0,0ZM437.0,926.0a5.0,6.0 0 1,0 10.0,0a5.0,6.0 0 1,0 -10.0,0ZM290.2,430.5L289.4,427.6L289.3,424.7L289.9,421.9L291.1,419.1L292.5,416.8L294.0,414.9L295.6,413.5L297.4,412.5L299.5,411.7L302.0,411.1L304.9,410.6L308.1,410.4L311.1,410.4L313.9,410.6L316.4,411.1L318.6,411.9L320.8,412.8L322.8,413.8L324.6,414.9L326.4,416.1L327.3,417.4L327.4,418.8L326.8,420.2L325.2,421.8L323.7,423.3L322.1,424.9L320.4,426.6L318.6,428.4L316.6,430.2L314.4,432.1L311.9,434.0L309.1,436.0L306.4,437.4L303.6,438.3L300.9,438.6L298.1,438.4L295.7,437.4L293.6,435.8L291.8,433.5Z" fill="#f57446" fill-rule="evenodd" stroke="#000" stroke-width="3.0" stroke-linejoin="round"/>
<path d="M100.0,170.0L515.5,170.0L515.5,177.8L515.5,181.8L515.6,184.6L515.7,187.1L515.8,189.3L515.8,192.5L515.7,196.8L515.5,202.1L515.2,208.4L514.4,214.3L513.0,219.6L511.0,224.5L508.5,228.9L505.6,233.0L502.3,236.8L498.6,240.2L494.4,243.4L490.3,246.3L486.0,249.0L481.7,251.4L477.3,253.7L472.7,255.7L468.0,257.6L463.1,259.4L458.1,260.9L452.7,262.8L447.0,265.0L441.0,267.5L434.7,270.4L429.6,272.7L425.8,274.4L423.2,275.7L422.0,276.4L419.4,277.4L415.6,278.7L410.6,280.3L404.4,282.2L399.1,284.8L394.7,288.3L391.2,292.5L388.8,297.5L385.9,301.7L382.8,305.2L379.4,307.8L375.6,309.7L371.9,310.9L368.1,311.6L364.4,311.6L360.6,310.9L356.9,311.1L353.1,312.0L349.4,313.8L345.6,316.2L341.6,318.4L337.2,320.3L332.5,321.9L327.5,323.1L323.6,322.7L320.8,320.5L319.1,316.6L318.4,310.9L317.6,306.6L316.6,303.4L315.4,301.6L314.1,300.9L312.3,301.8L310.1,304.3L307.5,308.2L304.5,313.8L302.2,318.8L300.8,323.5L300.0,327.8L300.0,331.7L299.5,333.3L298.6,332.8L297.2,330.0L295.3,325.0L293.1,321.5L290.6,319.4L287.8,318.8L284.7,319.7L282.7,320.9L281.7,322.5L281.9,324.4L283.1,326.6L283.1,329.1L281.9,331.8L279.4,334.7L275.6,337.8L271.6,340.9L267.2,344.1L262.5,347.2L257.5,350.3L251.9,353.2L245.6,355.9L238.8,358.3L231.2,360.5L223.8,362.5L216.2,364.4L208.8,366.1L201.2,367.7L194.7,368.6L189.1,368.9L184.4,368.6L180.6,367.7L178.1,367.8L176.9,369.1L176.9,371.4L178.1,374.8L180.0,377.8L182.5,380.3L185.6,382.3L189.4,383.9L191.6,385.9L192.2,388.4L191.2,391.4L188.8,394.8L186.7,398.7L185.2,402.9L184.1,407.5L183.4,412.5L183.8,417.0L185.0,421.1L187.2,424.7L190.3,427.8L192.3,431.2L193.3,435.0L193.1,439.1L191.9,443.4L191.2,448.0L191.2,452.7L191.9,457.5L193.1,462.5L195.6,466.1L199.4,468.3L204.4,469.1L210.6,468.4L216.9,467.7L223.1,466.7L229.4,465.6L235.6,464.4L242.2,464.0L249.1,464.5L256.2,465.8L263.8,468.0L270.5,469.5L276.4,470.5L281.6,470.8L285.9,470.5L290.3,469.9L294.7,469.1L299.1,468.1L303.4,466.9L308.3,465.2L313.6,463.0L319.4,460.3L325.6,457.2L331.9,453.8L338.1,450.0L344.4,445.9L350.6,441.6L357.2,437.7L364.1,434.5L371.2,431.7L378.8,429.5L386.2,427.7L393.8,426.3L401.2,425.3L408.8,424.7L415.7,424.0L422.0,423.4L427.7,422.7L432.9,422.0L437.1,421.2L440.3,420.4L442.5,419.6L443.7,418.8L445.0,418.6L446.2,419.0L447.5,420.0L448.8,421.7L450.3,423.0L452.0,424.1L453.9,424.8L456.0,425.3L458.4,425.5L461.2,425.5L464.3,425.3L467.6,424.8L470.6,424.3L473.1,423.7L475.2,423.0L477.0,422.1L479.1,421.0L481.6,419.5L484.6,417.7L487.9,415.6L491.5,413.7L495.3,412.0L499.3,410.5L503.6,409.2L507.7,408.3L511.7,407.6L515.6,407.3L519.4,407.3L522.9,407.6L526.0,408.3L528.9,409.2L531.4,410.5L533.5,412.1L535.2,414.0L536.5,416.2L537.3,418.8L537.3,420.9L536.5,422.6L534.8,423.8L532.3,424.7L529.8,425.5L527.2,426.3L524.7,427.2L522.1,428.0L519.6,429.0L517.0,430.0L514.5,431.2L512.0,432.5L509.7,433.8L507.6,435.0L505.6,436.3L503.9,437.6L502.0,438.9L499.9,440.1L497.6,441.4L495.1,442.6L492.6,444.0L490.0,445.5L487.5,447.0L484.9,448.8L482.2,450.5L479.2,452.1L476.0,453.9L472.7,455.6L469.1,457.1L465.3,458.6L461.3,460.0L457.0,461.2L453.2,462.5L449.7,463.9L446.7,465.3L444.0,466.8L441.9,468.7L440.3,470.9L439.2,473.6L438.7,476.7L438.4,479.6L438.2,482.2L438.3,484.7L438.6,486.9L438.3,489.5L437.4,492.3L436.0,495.4L434.1,498.7L432.6,501.8L431.6,504.6L431.1,507.2L431.1,509.4L431.5,512.0L432.2,514.8L433.2,517.9L434.7,521.2L436.0,524.5L437.3,527.6L438.5,530.5L439.6,533.4L441.0,536.2L442.7,539.0L444.7,541.8L446.9,544.7L448.8,547.5L450.2,550.3L451.1,553.1L451.7,555.9L452.4,558.7L453.2,561.5L454.2,564.3L455.3,567.2L456.3,570.0L457.1,572.8L457.9,575.6L458.4,578.5L459.2,580.9L460.0,583.0L461.0,584.8L462.1,586.2L462.2,587.3L461.4,588.2L459.6,588.7L456.7,589.0L453.8,589.3L450.7,589.8L447.4,590.3L444.1,590.8L441.4,591.8L439.4,593.0L438.2,594.7L437.6,596.6L437.7,598.3L438.4,599.5L439.7,600.4L441.7,601.0L443.5,601.6L445.2,602.3L446.7,603.1L448.2,603.9L449.3,605.3L450.2,607.1L450.7,609.4L451.0,612.3L450.9,615.2L450.5,618.3L449.7,621.6L448.6,624.9L447.5,627.9L446.4,630.3L445.2,632.4L444.2,633.9L443.0,635.5L441.7,637.2L440.4,638.8L439.1,640.5L437.4,642.8L435.6,645.8L433.4,649.4L431.1,653.6L428.5,657.1L425.8,659.9L422.8,661.9L419.7,663.1L416.6,665.0L413.4,667.5L410.3,670.6L407.2,674.4L405.3,677.8L404.7,680.9L405.3,683.8L407.2,686.2L409.7,688.8L412.8,691.2L416.6,693.8L420.9,696.2L425.0,698.9L428.8,701.6L432.2,704.5L435.3,707.5L438.0,710.8L440.2,714.2L441.9,718.0L443.1,722.0L443.8,726.1L443.8,730.2L443.1,734.4L441.9,738.6L440.8,742.4L439.8,745.8L438.9,748.8L438.1,751.2L437.0,753.4L435.4,755.3L433.4,756.9L431.1,758.1L428.5,759.4L425.8,760.6L422.8,761.9L419.7,763.1L417.3,764.7L415.8,766.6L415.0,768.8L415.0,771.2L415.8,773.8L417.3,776.2L419.7,778.8L422.8,781.2L425.3,783.9L427.2,786.7L428.4,789.7L429.1,792.8L428.6,795.0L427.0,796.2L424.4,796.6L420.6,795.9L417.2,795.8L414.1,796.1L411.2,796.9L408.8,798.1L406.6,799.5L404.7,801.1L403.1,802.8L401.9,804.7L400.0,806.1L397.5,807.0L394.4,807.5L390.6,807.5L387.0,806.7L383.6,805.2L380.3,802.8L377.2,799.7L374.4,796.2L371.9,792.5L369.7,788.4L367.8,784.1L365.5,779.8L362.7,775.8L359.4,771.9L355.6,768.1L352.5,764.5L350.0,761.1L348.1,757.8L346.9,754.7L345.3,752.2L343.4,750.3L341.2,749.1L338.8,748.4L336.4,746.7L334.2,743.9L332.2,740.0L330.3,735.0L328.8,731.7L327.5,730.2L326.6,730.3L325.9,732.2L324.4,733.4L321.9,734.1L318.4,734.1L314.1,733.4L310.5,732.2L307.7,730.3L305.6,727.8L304.4,724.7L302.7,722.4L300.5,721.0L297.8,720.5L294.7,720.8L291.4,721.6L288.0,722.8L284.4,724.5L280.6,726.7L276.9,729.0L273.1,731.3L269.4,733.8L265.6,736.2L262.3,738.7L259.5,741.0L257.2,743.3L255.3,745.5L253.1,746.7L250.6,747.0L247.8,746.4L244.7,744.8L241.6,743.2L238.4,741.5L235.3,739.7L232.2,737.8L229.7,735.5L227.8,732.7L226.6,729.4L225.9,725.6L225.2,722.1L224.2,718.8L223.1,715.8L221.9,713.0L220.3,710.9L218.4,709.7L216.2,709.2L213.8,709.5L211.6,710.7L209.7,712.7L208.1,715.6L206.9,719.4L205.2,722.3L203.0,724.5L200.3,725.9L197.2,726.6L195.0,727.5L193.8,728.8L193.4,730.3L194.1,732.2L195.3,734.4L197.2,736.9L199.7,739.7L202.8,742.8L203.9,745.2L203.0,746.7L200.0,747.5L195.0,747.5L190.6,746.9L186.9,745.6L183.8,743.8L181.2,741.2L179.5,738.8L178.6,736.2L178.4,733.8L179.1,731.2L178.6,729.2L177.0,727.7L174.4,726.6L170.6,725.9L167.7,724.2L165.5,721.4L164.1,717.5L163.4,712.5L162.7,708.1L161.7,704.4L160.6,701.2L159.4,698.8L158.8,696.4L158.8,694.2L159.4,692.2L160.6,690.3L160.9,688.8L160.3,687.5L158.8,686.6L156.2,685.9L153.6,685.2L150.8,684.2L147.8,683.1L144.7,681.9L141.7,680.2L138.9,678.0L136.2,675.3L133.8,672.2L132.2,669.2L131.6,666.4L131.9,663.8L133.1,661.2L133.1,659.1L131.9,657.2L129.4,655.6L125.6,654.4L121.6,653.4L117.2,652.8L111.2,652.5L100.0,652.5ZM105.0,462.0L116.2,460.9L121.8,460.7L125.4,461.1L128.4,461.9L130.6,463.1L132.6,464.7L134.2,466.6L135.5,468.8L136.5,471.2L137.1,473.6L137.4,475.9L137.2,478.0L136.8,480.0L135.9,481.8L134.6,483.2L133.0,484.5L131.0,485.5L128.9,486.2L126.6,486.8L124.2,487.0L121.8,487.0L119.1,487.0L116.2,487.0L112.3,487.0L105.0,487.0ZM105.0,506.0L113.4,506.0L118.4,506.2L122.8,506.8L127.5,507.5L132.5,508.5L137.3,509.6L142.0,510.7L146.6,511.9L150.9,513.1L154.4,514.5L156.9,516.0L158.4,517.6L159.1,519.4L159.5,521.5L159.7,524.0L159.6,526.9L159.4,530.1L158.9,533.0L158.3,535.6L157.5,537.8L156.5,539.7L155.3,541.9L153.8,544.4L152.2,547.2L150.3,550.3L148.1,553.3L145.6,556.1L142.8,558.8L139.7,561.2L136.4,563.3L133.0,564.8L129.4,565.9L125.6,566.6L121.9,567.0L118.1,567.3L113.4,567.5L105.0,567.5ZM171.5,497.0a5.5,5.5 0 1,0 11.0,0a5.5,5.5 0 1,0 -11.0,0ZM184.0,497.0a6.5,6.5 0 1,0 13.0,0a6.5,6.5 0 1,0 -13.0,0ZM158.5,471.0a2.5,3.0 0 1,0 5.0,0a2.5,3.0 0 1,0 -5.0,0ZM198.1,643.8L199.8,641.4L201.9,639.1L204.5,637.0L207.5,635.0L210.1,634.0L212.4,634.0L214.2,635.0L215.8,637.0L216.7,639.1L217.1,641.4L216.9,643.8L216.1,646.2L216.0,648.4L216.5,650.3L217.6,651.9L219.4,653.1L220.6,654.7L221.2,656.6L221.2,658.8L220.8,661.2L219.8,663.4L218.2,665.3L216.2,666.9L213.8,668.1L211.2,668.9L208.8,669.3L206.2,669.2L203.8,668.8L201.4,667.9L199.3,666.6L197.4,665.0L195.6,663.0L194.4,660.9L193.8,658.6L193.8,656.2L194.2,653.8L194.9,651.2L195.8,648.8L196.9,646.2ZM234.2,689.5L235.2,686.6L236.8,683.9L238.8,681.2L241.2,678.8L243.6,676.7L245.7,675.1L247.6,673.9L249.4,673.1L250.9,672.9L252.3,673.3L253.5,674.2L254.5,675.8L254.8,677.6L254.2,679.9L253.0,682.5L251.0,685.5L249.0,688.4L247.0,691.1L245.0,693.8L243.0,696.2L241.1,697.9L239.2,698.8L237.4,698.9L235.6,698.1L234.4,696.8L233.8,694.9L233.8,692.5ZM288.1,648.8L289.5,646.2L291.0,643.8L292.6,641.2L294.4,638.8L296.2,637.3L298.1,636.9L300.0,637.6L302.0,639.4L303.8,641.2L305.4,643.1L306.9,645.0L308.1,647.0L308.4,648.8L307.8,650.4L306.2,651.9L303.8,653.1L301.6,655.0L299.7,657.5L298.1,660.6L296.9,664.4L295.5,666.9L294.0,668.1L292.4,668.1L290.6,666.9L289.1,665.3L287.9,663.4L286.9,661.2L286.1,658.8L285.9,656.2L286.1,653.8L286.9,651.2ZM386.0,641.0a4.0,5.0 0 1,0 8.0,0a4.0,5.0 0 1,0 -8.0,0ZM407.0,645.0a6.0,8.0 0 1,0 12.0,0a6.0,8.0 0 1,0 -12.0,0ZM351.0,289.0a9.0,7.5 0 1,0 18.0,0a9.0,7.5 0 1,0 -18.0,0ZM392.0,271.0a4.0,4.0 0 1,0 8.0,0a4.0,4.0 0 1,0 -8.0,0ZM328.0,277.0a3.0,2.5 0 1,0 6.0,0a3.0,2.5 0 1,0 -6.0,0ZM223.0,652.0a3.0,3.0 0 1,0 6.0,0a3.0,3.0 0 1,0 -6.0,0ZM241.0,643.0a3.0,2.5 0 1,0 6.0,0a3.0,2.5 0 1,0 -6.0,0ZM200.5,659.0a2.5,3.0 0 1,0 5.0,0a2.5,3.0 0 1,0 -5.0,0ZM260.0,554.0a4.0,5.0 0 1,0 8.0,0a4.0,5.0 0 1,0 -8.0,0ZM296.9,557.1L296.6,554.8L297.2,552.9L298.8,551.5L301.2,550.5L303.8,550.1L306.2,550.4L308.8,551.2L311.2,552.8L312.9,554.4L313.8,556.1L313.9,558.0L313.1,560.0L311.8,561.6L309.9,562.7L307.5,563.4L304.5,563.6L301.9,563.1L299.8,561.9L298.1,559.9ZM500.1,498.2L500.1,496.8L500.7,495.6L501.8,494.6L503.3,493.9L504.9,493.2L506.5,492.5L508.1,492.0L509.6,491.5L511.2,491.3L512.8,491.3L514.4,491.5L516.0,492.0L517.4,492.7L518.6,493.8L519.6,495.1L520.3,496.6L521.3,498.2L522.5,499.8L523.9,501.4L525.5,502.9L527.1,504.3L528.8,505.5L530.6,506.5L532.3,507.3L534.4,508.4L536.6,509.7L539.1,511.3L541.9,513.2L544.2,514.8L546.1,516.3L547.5,517.5L548.5,518.5L549.9,519.9L551.6,521.6L553.8,523.8L556.2,526.2L557.9,528.9L558.6,531.6L558.5,534.5L557.5,537.5L556.1,540.2L554.4,542.6L552.2,544.6L549.8,546.4L547.6,547.7L545.8,548.6L544.4,549.1L543.4,549.2L542.0,549.3L540.4,549.5L538.5,549.7L536.3,550.0L534.3,550.5L532.5,551.2L530.9,552.0L529.6,553.1L528.4,554.4L527.3,555.7L526.5,557.2L525.8,558.7L525.4,559.4L525.5,559.2L525.9,558.0L526.7,556.0L527.3,553.8L527.7,551.6L527.9,549.3L527.9,547.0L527.7,544.8L527.3,542.8L526.7,541.0L525.9,539.4L525.0,537.8L524.1,536.2L523.1,534.6L521.9,533.1L521.3,531.6L521.2,530.1L521.5,528.8L522.2,527.5L522.8,526.3L523.1,525.2L523.2,524.2L523.0,523.2L522.6,522.5L521.8,521.9L520.7,521.6L519.2,521.4L517.9,520.8L516.7,519.8L515.7,518.4L514.7,516.5L513.7,514.6L512.7,512.8L511.6,511.0L510.5,509.2L509.2,507.6L507.7,506.2L506.0,505.0L504.2,503.8L502.6,502.6L501.4,501.3L500.6,499.8ZM675.8,176.0L670.5,177.5L666.5,180.5L663.8,185.0L662.2,191.0L660.7,196.0L659.1,200.0L657.4,203.0L655.6,205.0L653.9,207.0L652.0,208.9L650.2,210.8L648.4,212.7L646.8,214.7L645.6,216.7L644.7,218.8L644.0,221.1L643.7,223.5L643.5,226.2L643.6,229.1L643.9,232.3L643.8,235.1L643.1,237.6L642.0,239.9L640.4,241.7L638.7,243.6L637.0,245.3L635.2,247.0L633.2,248.6L631.7,250.4L630.4,252.5L629.5,254.8L628.8,257.3L628.3,259.7L627.8,261.9L627.4,263.9L627.1,265.8L627.1,267.9L627.4,270.1L628.0,272.5L629.0,275.1L630.0,277.3L631.1,279.2L632.3,280.8L633.6,282.0L635.1,283.2L637.0,284.2L639.1,285.1L641.4,285.8L644.5,286.1L648.2,285.9L652.5,285.1L657.5,283.9L662.9,280.3L668.8,274.4L675.1,266.2L681.9,255.8L687.3,245.4L691.4,235.1L694.2,225.0L695.8,215.0L696.5,206.0L696.5,198.0L695.8,191.0L694.2,185.0L691.5,180.5L687.5,177.5L682.2,176.0ZM417.4,807.5L417.7,805.1L418.6,803.2L420.0,801.9L422.0,801.1L423.9,800.9L425.8,801.1L427.6,801.9L429.4,803.1L430.8,804.7L431.8,806.6L432.4,808.8L432.6,811.2L432.6,813.8L432.4,816.2L431.9,818.8L431.1,821.2L430.1,823.4L428.7,825.3L427.0,826.9L425.0,828.1L423.1,828.8L421.4,828.8L419.8,828.1L418.2,826.9L417.2,825.3L416.8,823.4L416.8,821.2L417.2,818.8L417.6,816.1L417.7,813.4L417.6,810.5ZM242.0,329.0a3.0,4.0 0 1,0 6.0,0a3.0,4.0 0 1,0 -6.0,0ZM250.0,334.0a4.0,4.0 0 1,0 8.0,0a4.0,4.0 0 1,0 -8.0,0ZM141.1,379.6L141.0,378.2L141.5,377.2L142.6,376.6L144.4,376.4L146.0,376.5L147.5,377.0L148.9,377.9L150.1,379.1L150.9,380.3L151.3,381.4L151.2,382.5L150.8,383.5L149.9,384.2L148.8,384.6L147.4,384.6L145.6,384.4L144.1,383.8L142.9,382.8L141.9,381.4ZM156.0,384.0L156.3,382.4L156.9,381.3L157.9,380.6L159.1,380.4L160.4,380.8L161.6,381.9L162.9,383.8L164.1,386.2L165.4,388.6L166.8,390.9L168.2,393.0L169.8,395.0L170.6,396.6L170.7,397.9L170.1,398.8L168.9,399.2L167.4,399.4L165.8,399.1L164.0,398.5L162.0,397.5L160.3,396.3L158.9,394.9L157.9,393.4L157.1,391.6L156.6,389.8L156.2,387.9L156.0,386.0ZM271.0,648.0a4.0,3.0 0 1,0 8.0,0a4.0,3.0 0 1,0 -8.0,0ZM407.0,671.0a6.0,4.0 0 1,0 12.0,0a6.0,4.0 0 1,0 -12.0,0ZM422.0,710.0a7.0,4.0 0 1,0 14.0,0a7.0,4.0 0 1,0 -14.0,0ZM345.0,775.0a5.0,5.0 0 1,0 10.0,0a5.0,5.0 0 1,0 -10.0,0ZM366.9,372.4L367.9,370.6L369.1,369.2L370.6,368.2L372.4,367.8L373.8,367.7L374.9,368.1L375.8,368.9L376.2,370.1L376.3,371.4L375.9,372.6L375.1,373.9L373.9,375.1L373.2,376.4L373.2,377.6L373.9,378.9L375.1,380.1L375.9,381.4L376.1,382.6L375.9,383.9L375.1,385.1L374.1,386.0L372.9,386.5L371.4,386.6L369.6,386.4L368.2,385.7L367.1,384.6L366.2,383.0L365.8,381.0L365.6,378.9L365.7,376.8L366.1,374.6ZM391.5,420.0a3.5,4.5 0 1,0 7.0,0a3.5,4.5 0 1,0 -7.0,0ZM591.9,338.8L591.6,336.6L592.2,334.9L593.8,333.5L596.2,332.5L598.8,331.9L601.2,331.6L603.8,331.8L606.2,332.2L608.2,333.1L609.8,334.2L610.8,335.6L611.2,337.4L611.2,339.1L610.6,340.9L609.4,342.6L607.6,344.4L605.7,345.6L603.6,346.2L601.2,346.2L598.8,345.8L596.6,344.8L594.7,343.2L593.1,341.2Z" fill="#e85337" fill-rule="evenodd" stroke="#000" stroke-width="3.0" stroke-linejoin="round"/>
<path d="M100.0,170.0L100.0,297.5L111.2,297.5L117.8,297.8L123.4,298.4L129.4,299.4L135.6,300.6L141.9,301.9L148.1,303.1L154.4,304.4L160.6,305.6L166.4,306.4L171.7,306.7L176.6,306.6L180.9,305.9L185.2,305.8L189.2,306.1L193.1,306.9L196.9,308.1L201.6,308.7L207.2,308.5L213.8,307.7L221.2,306.1L228.3,304.5L234.8,303.0L240.9,301.4L246.6,299.8L251.7,297.9L256.4,295.5L260.6,292.8L264.4,289.7L268.1,286.6L271.9,283.4L275.6,280.3L279.4,277.2L283.1,274.1L286.9,270.9L290.6,267.8L294.4,264.7L297.8,261.6L300.9,258.4L303.8,255.3L306.2,252.2L309.4,249.6L313.1,247.6L317.5,246.1L322.5,245.2L326.6,244.1L329.7,242.8L331.9,241.4L333.1,239.8L333.8,238.0L333.8,235.7L333.1,233.2L331.9,230.3L331.6,227.8L332.2,225.6L333.8,223.8L336.2,222.2L338.3,221.5L339.8,221.5L340.9,222.2L341.6,223.8L342.5,225.4L343.8,227.1L345.3,229.0L347.2,231.0L349.7,232.9L352.8,234.6L356.6,236.2L360.9,237.8L365.5,239.0L370.2,240.1L375.0,240.9L380.0,241.6L384.5,242.5L388.6,243.9L392.2,245.6L395.3,247.6L398.4,249.5L401.6,251.1L404.7,252.6L407.9,253.8L411.8,254.4L416.6,254.4L422.1,253.8L428.4,252.6L434.3,250.8L439.9,248.6L445.0,245.9L449.7,242.8L454.1,240.4L458.2,238.8L462.0,238.0L465.5,238.0L469.2,237.4L473.1,236.1L477.3,234.2L481.7,231.8L485.7,229.1L489.3,226.2L492.6,223.2L495.4,220.1L497.8,216.7L499.7,213.0L501.1,209.2L502.1,205.1L502.6,201.1L502.8,197.3L502.6,193.7L501.9,190.2L501.5,186.7L501.2,183.1L501.0,178.4L501.0,170.0ZM350.0,552.2L351.6,550.3L354.7,549.7L359.4,550.3L365.6,552.2L370.5,554.4L373.9,556.9L375.9,559.7L376.6,562.8L377.8,565.8L379.7,568.6L382.2,571.2L385.3,573.8L386.7,576.2L386.4,578.8L384.4,581.2L380.6,583.8L377.5,586.7L375.0,590.2L373.1,594.1L371.9,598.4L370.6,602.3L369.4,605.8L368.1,608.8L366.9,611.2L365.3,613.3L363.4,614.8L361.2,615.9L358.8,616.6L356.9,616.4L355.6,615.5L355.0,613.8L355.0,611.2L354.2,609.2L352.7,607.7L350.3,606.6L347.2,605.9L344.7,605.0L342.8,603.8L341.6,602.2L340.9,600.3L341.1,598.6L342.0,597.0L343.8,595.6L346.2,594.4L347.8,592.8L348.4,590.9L348.1,588.8L346.9,586.2L345.2,584.1L343.0,582.2L340.3,580.6L337.2,579.4L335.2,578.0L334.2,576.4L334.4,574.7L335.6,572.8L337.3,570.8L339.5,568.6L342.2,566.2L345.3,563.8L347.7,561.1L349.2,558.3L350.0,555.3ZM365.2,573.8a3.5,5.5 0 1,0 7.0,0a3.5,5.5 0 1,0 -7.0,0ZM376.1,447.5L376.2,446.4L377.1,445.1L378.8,443.8L381.2,442.2L383.8,441.0L386.2,439.9L388.8,439.1L391.2,438.4L394.1,437.9L397.4,437.4L401.0,437.0L405.0,436.7L408.7,436.4L412.1,436.1L415.2,435.8L417.9,435.5L420.7,435.2L423.5,434.8L426.2,434.3L429.0,433.8L431.6,433.2L434.1,432.7L436.4,432.1L438.7,431.6L440.8,431.3L442.9,431.3L444.9,431.6L446.8,432.1L448.6,433.0L450.2,434.1L451.8,435.5L453.1,437.1L454.0,438.6L454.4,439.8L454.4,440.8L453.8,441.7L453.0,442.1L451.9,442.3L450.5,442.1L448.9,441.5L447.3,441.4L445.8,441.7L444.3,442.3L443.0,443.5L441.7,444.7L440.6,446.1L439.6,447.6L438.8,449.2L437.7,450.6L436.5,451.7L435.0,452.5L433.4,453.1L431.6,453.7L429.7,454.4L427.6,455.1L425.4,456.0L422.8,456.6L419.9,457.1L416.6,457.5L413.0,457.7L409.1,457.7L405.1,457.4L400.9,456.9L396.6,456.1L392.5,455.2L388.8,454.2L385.5,453.1L382.5,451.9L380.1,450.7L378.2,449.6L376.9,448.5ZM287.2,246.2a4.0,5.0 0 1,0 8.0,0a4.0,5.0 0 1,0 -8.0,0ZM295.5,267.5a4.0,4.5 0 1,0 8.0,0a4.0,4.5 0 1,0 -8.0,0ZM277.5,261.0a2.5,1.8 0 1,0 5.0,0a2.5,1.8 0 1,0 -5.0,0ZM268.0,271.0a2.0,1.8 0 1,0 4.0,0a2.0,1.8 0 1,0 -4.0,0ZM280.5,189.5a7.0,5.0 0 1,0 14.0,0a7.0,5.0 0 1,0 -14.0,0Z" fill="#d93328" fill-rule="evenodd" stroke="#000" stroke-width="3.0" stroke-linejoin="round"/>
<path d="M356.0,170.0L356.0,176.8L356.2,180.9L356.8,184.6L357.5,188.8L358.5,193.2L360.5,197.2L363.5,200.8L367.5,203.8L372.5,206.2L377.5,208.6L382.5,210.9L387.5,213.0L392.5,214.9L397.4,216.4L402.1,217.4L406.6,217.9L411.1,217.9L415.3,217.2L419.4,215.8L423.4,213.6L427.1,210.8L430.8,207.8L434.2,204.8L437.5,201.8L440.7,198.6L443.7,195.7L446.5,193.0L449.2,190.6L451.7,188.3L453.6,185.7L455.0,182.7L455.7,178.4L456.0,170.0Z" fill="#bf1927" fill-rule="evenodd" stroke="#000" stroke-width="3.0" stroke-linejoin="round"/>
<path d="M757.4,617.5L622.0,616.1L553.0,616.4L516.8,617.8L513.2,620.2L510.3,622.1L507.9,623.2L506.1,623.6L504.9,623.4L503.6,623.4L502.4,623.6L501.1,624.1L499.9,624.9L498.9,625.8L498.1,626.8L497.5,627.9L497.3,629.1L497.1,630.5L497.2,632.0L497.5,633.6L498.0,635.4L498.8,637.5L500.0,639.9L501.5,642.7L503.4,645.8L504.9,649.1L506.1,652.5L506.9,656.1L507.3,659.8L507.9,663.2L508.6,666.2L509.4,668.9L510.4,671.3L510.9,673.4L511.0,675.2L510.6,676.8L509.8,678.0L509.2,679.9L508.8,682.4L508.6,685.4L508.6,689.0L509.0,691.8L509.8,693.7L511.1,694.8L512.7,695.1L514.5,695.0L516.4,694.6L518.5,693.8L520.7,692.7L523.2,691.8L525.9,691.3L529.0,691.0L532.3,691.0L534.9,691.7L536.7,693.1L537.7,695.2L538.0,697.9L538.5,700.6L539.4,703.1L540.5,705.4L541.8,707.6L543.8,709.6L546.5,711.4L549.7,713.0L553.6,714.3L556.8,716.0L559.3,717.9L561.0,720.1L562.1,722.6L562.8,725.2L563.1,727.8L563.0,730.5L562.4,733.3L562.3,736.0L562.6,738.8L563.2,741.6L564.3,744.3L565.8,746.3L567.6,747.4L569.7,747.6L572.2,747.1L574.2,747.5L575.9,748.9L577.1,751.4L578.0,754.8L578.9,758.3L579.9,761.8L581.0,765.2L582.2,768.8L583.2,771.6L583.9,773.9L584.4,775.5L584.6,776.5L584.6,777.8L584.4,779.4L583.9,781.4L583.1,783.6L582.2,785.8L581.1,787.9L579.8,790.0L578.2,792.0L576.9,794.0L575.6,796.0L574.5,798.0L573.5,800.0L572.8,802.2L572.2,804.8L572.0,807.5L572.0,810.5L572.1,813.7L572.2,817.1L572.4,820.6L572.6,824.4L573.0,828.1L573.5,831.9L574.1,835.6L574.9,839.4L575.7,843.1L576.7,846.9L577.8,850.6L579.1,854.4L580.5,858.1L582.3,861.9L584.3,865.6L586.6,869.4L588.9,873.0L591.3,876.5L593.8,879.9L596.2,883.1L598.7,886.3L601.0,889.4L603.2,892.5L605.4,895.5L606.8,899.0L607.4,903.0L607.4,907.5L606.5,912.5L606.2,917.5L606.2,922.5L606.8,927.5L607.7,932.5L609.5,937.4L611.9,942.1L615.1,946.8L619.1,951.2L623.0,955.2L626.8,958.8L630.6,961.8L634.4,964.2L637.8,966.6L640.9,968.7L643.8,970.6L646.2,972.4L648.4,974.6L650.3,977.4L651.9,980.6L653.1,984.4L654.2,988.1L655.2,991.9L656.1,995.6L656.9,999.4L657.6,1003.2L658.2,1007.1L658.8,1011.0L659.2,1015.0L659.9,1019.2L660.6,1023.6L661.5,1028.1L662.5,1032.9L663.5,1037.2L664.5,1041.1L665.5,1044.5L666.5,1047.5L667.2,1050.2L667.8,1052.8L668.0,1055.0L668.0,1057.0L667.2,1058.8L665.6,1060.4L663.1,1061.9L659.9,1063.1L656.5,1064.2L653.0,1065.2L649.4,1066.1L645.6,1066.9L642.1,1067.9L638.7,1069.1L635.5,1070.6L632.5,1072.4L630.4,1074.6L629.1,1077.4L628.8,1080.6L629.2,1084.4L630.9,1087.8L633.6,1090.9L637.5,1093.8L642.5,1096.2L647.5,1098.6L652.5,1100.9L657.5,1103.0L662.5,1105.0L667.5,1106.8L672.5,1108.2L677.5,1109.5L682.5,1110.5L687.5,1111.3L692.5,1111.9L697.5,1112.4L702.5,1112.6L707.2,1112.8L711.6,1112.8L715.6,1112.6L719.4,1112.4L723.1,1112.2L726.9,1112.0L730.6,1112.0L734.4,1111.9L737.7,1111.8L740.5,1111.7L742.8,1111.5L744.8,1111.2L746.6,1111.6L748.5,1112.7L750.4,1114.5L752.3,1117.0L754.3,1119.4L756.5,1121.6L758.9,1123.6L761.4,1125.5L764.1,1127.1L767.0,1128.5L770.0,1129.7L773.1,1130.7L776.3,1131.7L779.5,1132.8L782.6,1134.0L785.8,1135.3L788.4,1136.5L790.4,1137.6L791.9,1138.6L792.9,1139.5L793.0,1140.4L792.2,1141.2L790.5,1141.9L788.0,1142.5L785.5,1143.4L783.2,1144.5L780.9,1145.9L778.6,1147.4L782.9,1148.9L793.6,1150.2L810.8,1151.4L834.5,1152.4L853.5,1153.4L867.8,1154.3L877.5,1155.1L882.5,1155.9L886.8,1156.8L890.2,1157.8L893.0,1158.9L895.0,1160.1L896.8,1161.8L898.2,1163.9L899.5,1166.5L900.5,1169.5L901.6,1172.6L902.7,1175.9L903.9,1179.2L905.1,1182.8L906.8,1185.9L908.8,1188.8L911.1,1191.4L913.9,1193.6L916.9,1195.6L920.3,1197.2L924.0,1198.5L928.0,1199.5L931.9,1200.5L935.6,1201.5L939.2,1202.5L942.8,1203.5L946.1,1204.7L949.2,1206.1L952.1,1207.6L954.9,1209.4L957.3,1211.4L959.4,1213.8L961.2,1216.5L962.8,1219.5L964.1,1222.6L965.2,1225.9L966.1,1229.2L966.9,1232.8L967.6,1236.2L968.2,1239.8L968.8,1243.2L969.2,1246.8L969.8,1250.4L970.2,1254.1L970.8,1258.0L971.2,1262.0L971.8,1265.8L972.2,1269.2L972.8,1272.5L973.2,1275.5L973.8,1278.4L974.2,1281.3L974.8,1284.1L975.2,1286.9L975.6,1289.5L975.9,1292.0L976.0,1294.9L976.0,1300.0L1060.0,1300.0L1060.0,622.0ZM177.5,1300.0L177.5,1293.7L178.6,1290.3L180.8,1287.8L184.1,1285.5L188.4,1283.3L193.3,1281.0L198.6,1278.7L204.4,1276.2L210.6,1273.8L216.7,1271.4L222.7,1269.2L228.4,1267.2L234.1,1265.3L238.7,1264.2L242.3,1263.9L244.8,1264.4L246.4,1265.6L247.0,1267.0L246.7,1268.6L245.5,1270.3L243.3,1272.2L241.5,1274.1L240.1,1275.9L239.1,1277.8L238.4,1279.7L238.9,1281.3L240.5,1282.7L243.1,1283.9L246.9,1284.8L250.6,1285.2L254.4,1284.8L258.1,1283.9L261.9,1282.3L265.0,1279.9L267.5,1276.6L269.4,1272.5L270.6,1267.5L271.6,1262.7L272.2,1258.0L272.5,1253.4L272.5,1249.1L273.0,1244.9L273.9,1241.0L275.3,1237.3L277.2,1233.9L279.5,1231.5L282.3,1230.1L285.6,1229.7L289.4,1230.3L293.1,1231.8L296.9,1234.1L300.6,1237.3L304.4,1241.4L308.1,1245.1L311.9,1248.4L315.6,1251.2L319.4,1253.8L323.1,1256.4L326.9,1259.2L330.6,1262.2L334.4,1265.3L337.8,1268.1L340.9,1270.6L343.8,1272.8L346.2,1274.7L348.4,1276.9L350.3,1279.6L351.9,1282.6L353.1,1285.9L354.1,1289.0L354.7,1291.8L355.0,1294.9L355.0,1300.0ZM353.4,1219.1L353.1,1214.8L353.1,1210.8L353.4,1206.9L354.1,1203.1L354.8,1200.2L355.8,1198.0L356.9,1196.6L358.1,1195.9L359.7,1195.4L361.6,1194.9L363.8,1194.5L366.2,1194.2L368.8,1194.4L371.2,1195.0L373.8,1196.1L376.2,1197.7L378.8,1198.4L381.2,1198.2L383.8,1197.2L386.2,1195.3L389.2,1194.4L392.7,1194.4L396.6,1195.3L400.9,1197.2L405.0,1198.8L408.8,1200.0L412.2,1200.9L415.3,1201.6L418.3,1202.3L421.1,1203.3L423.8,1204.4L426.2,1205.6L429.1,1206.6L432.2,1207.3L435.6,1207.7L439.4,1207.8L443.1,1207.8L446.9,1207.8L450.6,1207.6L454.4,1207.4L457.6,1207.5L460.4,1208.0L462.6,1208.9L464.4,1210.1L465.4,1211.6L465.6,1213.2L465.1,1215.0L463.9,1217.0L461.9,1218.6L459.1,1219.9L455.6,1220.8L451.4,1221.2L447.7,1221.8L444.6,1222.4L442.0,1223.1L440.0,1223.9L437.8,1224.9L435.2,1226.1L432.5,1227.6L429.5,1229.4L426.9,1231.0L424.8,1232.6L423.1,1234.1L421.9,1235.4L420.3,1237.2L418.4,1239.5L416.2,1242.2L413.8,1245.3L411.7,1249.1L410.2,1253.4L409.1,1258.4L408.4,1264.1L408.1,1270.0L408.1,1276.2L408.6,1284.5L410.0,1300.0L385.0,1300.0L385.0,1294.9L385.2,1292.3L385.5,1290.4L385.9,1288.8L386.6,1287.2L387.7,1285.2L389.2,1282.6L391.2,1279.4L393.8,1275.6L395.5,1272.2L396.4,1269.1L396.6,1266.2L395.9,1263.8L394.7,1261.2L392.8,1258.8L390.3,1256.2L387.2,1253.8L383.9,1251.1L380.5,1248.3L376.9,1245.3L373.1,1242.2L369.8,1240.2L367.0,1239.2L364.7,1239.4L362.8,1240.6L361.1,1240.8L359.5,1239.8L358.1,1237.8L356.9,1234.7L355.8,1231.2L354.8,1227.5L354.1,1223.4ZM122.0,1300.0L122.0,1288.8L122.4,1283.2L123.1,1279.6L124.2,1276.6L125.8,1274.4L127.3,1272.8L128.9,1271.8L130.6,1271.4L132.4,1271.6L133.9,1272.4L135.1,1273.8L136.1,1275.8L136.9,1278.2L137.1,1280.7L136.9,1283.1L136.1,1285.4L134.9,1287.6L133.9,1289.9L133.3,1292.1L133.0,1294.9L133.0,1300.0ZM145.0,1300.0L146.7,1291.6L147.9,1287.5L149.1,1285.0L150.6,1283.1L152.4,1281.9L154.0,1281.3L155.5,1281.4L156.9,1282.2L158.1,1283.8L159.1,1285.8L159.7,1288.2L160.0,1292.1L160.0,1300.0ZM476.8,1221.8L477.2,1219.7L478.8,1218.1L481.2,1216.9L484.8,1216.1L488.3,1215.8L491.9,1215.8L495.6,1216.1L499.4,1216.9L502.8,1217.9L505.9,1219.1L508.8,1220.6L511.2,1222.4L512.9,1224.1L513.8,1225.9L513.9,1227.6L513.1,1229.4L511.8,1231.1L509.9,1232.7L507.5,1234.2L504.5,1235.8L501.6,1237.3L498.9,1238.9L496.2,1240.6L493.8,1242.4L491.4,1243.4L489.1,1243.6L487.0,1243.1L485.0,1241.9L483.2,1240.2L481.8,1238.1L480.5,1235.5L479.5,1232.5L478.6,1229.6L477.9,1226.9L477.2,1224.2ZM471.9,1273.8L471.9,1271.8L473.1,1270.2L475.6,1269.2L479.4,1268.8L483.1,1268.5L486.9,1268.5L490.6,1268.8L494.4,1269.2L497.8,1269.9L500.8,1270.8L503.4,1271.9L505.6,1273.1L507.1,1274.6L507.7,1276.2L507.5,1278.0L506.5,1280.0L504.8,1281.6L502.4,1282.9L499.4,1283.8L495.6,1284.2L491.9,1284.3L488.1,1283.9L484.4,1283.1L480.6,1281.9L477.5,1280.3L475.0,1278.4L473.1,1276.2ZM437.0,1254.2L437.7,1253.0L439.1,1252.0L441.1,1251.2L443.9,1250.8L446.1,1250.8L447.7,1251.2L448.8,1252.2L449.2,1253.8L449.2,1255.1L448.8,1256.4L447.8,1257.5L446.2,1258.5L444.7,1259.1L443.1,1259.4L441.4,1259.2L439.6,1258.8L438.3,1258.0L437.4,1257.0L437.0,1255.8ZM460.0,1253.0L460.6,1251.3L461.9,1249.9L463.8,1248.9L466.2,1248.1L468.6,1248.1L470.7,1248.7L472.6,1250.0L474.4,1252.0L475.4,1253.8L475.6,1255.4L475.1,1256.9L473.9,1258.1L472.2,1258.9L470.1,1259.3L467.5,1259.2L464.5,1258.8L462.2,1257.9L460.8,1256.6L460.0,1255.0ZM506.0,1244.0a5.0,5.0 0 1,0 10.0,0a5.0,5.0 0 1,0 -10.0,0ZM532.0,1226.0a5.0,6.0 0 1,0 10.0,0a5.0,6.0 0 1,0 -10.0,0ZM279.5,1214.0a3.5,5.0 0 1,0 7.0,0a3.5,5.0 0 1,0 -7.0,0ZM293.0,1204.0a5.0,2.5 0 1,0 10.0,0a5.0,2.5 0 1,0 -10.0,0ZM308.0,1223.0a5.0,5.0 0 1,0 10.0,0a5.0,5.0 0 1,0 -10.0,0ZM547.0,1300.0L548.7,1291.0L549.8,1286.9L550.9,1284.8L552.2,1283.6L553.8,1283.4L555.1,1284.2L556.4,1286.2L557.8,1290.4L560.0,1300.0ZM667.0,1300.0L669.8,1288.8L671.6,1283.0L673.2,1279.0L675.0,1275.5L677.0,1272.5L679.2,1269.9L681.8,1267.6L684.5,1265.8L687.5,1264.2L690.2,1263.5L692.8,1263.5L695.0,1264.2L697.0,1265.8L699.1,1267.3L701.4,1268.9L703.8,1270.6L706.2,1272.4L708.9,1274.3L711.6,1276.4L714.5,1278.8L717.5,1281.2L719.9,1284.1L721.8,1287.2L723.3,1291.6L725.0,1300.0Z" fill="#fee79a" fill-rule="evenodd" stroke="#000" stroke-width="3.0" stroke-linejoin="round"/>
<path d="M819.2,800.0L711.6,800.5L656.9,801.5L628.3,803.0L625.8,805.1L623.8,807.3L622.2,809.7L621.0,812.4L620.3,815.2L619.3,817.9L618.1,820.4L616.6,822.7L614.8,824.8L612.9,826.7L610.8,828.3L608.5,829.6L606.0,830.7L603.7,831.8L601.8,833.1L600.1,834.4L598.6,835.9L597.3,837.4L596.1,839.0L594.9,840.7L593.9,842.4L593.1,844.1L592.7,845.8L592.6,847.3L592.7,848.8L593.3,850.1L594.3,851.2L595.6,852.1L597.4,852.9L599.0,853.8L600.5,854.9L601.9,856.2L603.1,857.8L604.2,859.4L605.2,861.1L606.1,862.9L606.8,864.9L607.7,867.1L608.8,869.6L610.0,872.4L611.5,875.4L613.1,878.5L614.8,881.7L616.8,884.9L618.8,888.1L620.8,891.0L622.5,893.5L624.0,895.6L625.3,897.4L626.0,899.9L625.9,903.3L625.2,907.5L623.9,912.5L622.8,917.5L621.9,922.5L621.4,927.5L621.1,932.5L621.9,937.5L623.8,942.5L626.9,947.5L631.2,952.5L635.4,957.5L639.7,962.5L644.1,967.5L648.4,972.5L652.3,977.5L655.6,982.5L658.4,987.5L660.6,992.5L662.4,997.6L663.6,1002.7L664.4,1007.9L664.6,1013.1L665.0,1018.2L665.5,1023.2L666.1,1028.1L666.9,1032.9L667.9,1037.4L669.1,1041.6L670.6,1045.6L672.4,1049.4L674.5,1053.2L677.0,1057.2L679.9,1061.4L683.1,1065.6L685.9,1069.4L688.1,1072.8L689.8,1075.7L690.9,1078.1L692.5,1080.5L694.5,1082.9L696.9,1085.1L699.6,1087.4L702.7,1089.1L706.0,1090.4L709.5,1091.2L713.3,1091.5L717.3,1091.7L721.4,1091.7L725.7,1091.5L730.2,1091.2L733.7,1091.0L736.4,1091.0L738.1,1091.1L738.8,1091.3L740.1,1091.5L741.7,1091.6L743.8,1091.7L746.3,1091.7L748.4,1092.0L750.2,1092.7L751.5,1093.6L752.5,1094.9L753.3,1096.4L754.1,1098.1L754.8,1100.1L755.5,1102.3L756.6,1104.3L758.4,1106.0L760.7,1107.5L763.5,1108.8L766.5,1109.7L769.7,1110.4L773.0,1110.7L776.4,1110.7L779.7,1111.1L782.9,1111.9L785.9,1113.1L788.7,1114.6L791.5,1116.1L794.2,1117.5L796.8,1118.9L799.3,1120.1L801.5,1121.6L803.4,1123.4L805.0,1125.3L806.2,1127.6L807.6,1129.5L809.2,1131.3L811.0,1132.8L812.9,1134.0L815.1,1135.0L817.6,1135.8L820.4,1136.4L823.6,1136.7L826.7,1137.1L829.9,1137.6L833.0,1138.1L836.2,1138.8L839.1,1139.3L841.8,1139.8L844.2,1140.2L846.5,1140.5L848.8,1140.9L851.4,1141.5L854.0,1142.3L856.9,1143.3L859.3,1144.2L861.4,1145.0L863.0,1145.7L864.3,1146.3L866.1,1147.1L868.5,1148.0L871.4,1149.1L874.8,1150.2L878.2,1151.5L881.6,1152.8L884.9,1154.2L888.1,1155.8L891.0,1157.4L893.5,1159.1L895.6,1161.0L897.4,1163.0L898.9,1165.2L900.3,1167.8L901.5,1170.5L902.5,1173.5L903.6,1176.5L904.7,1179.5L905.9,1182.5L907.1,1185.5L908.9,1188.2L911.1,1190.8L913.9,1193.0L917.1,1195.0L920.6,1196.8L924.2,1198.2L928.0,1199.5L932.0,1200.5L935.8,1201.5L939.2,1202.5L942.5,1203.5L945.5,1204.5L948.4,1205.8L951.3,1207.2L954.1,1209.0L956.9,1211.0L959.3,1213.3L961.4,1215.9L963.2,1218.9L964.8,1222.1L966.1,1225.5L967.2,1229.0L968.1,1232.6L968.9,1236.4L969.6,1240.2L970.2,1244.1L970.8,1248.0L971.2,1252.0L971.8,1256.0L972.2,1260.0L972.8,1264.0L973.2,1268.0L973.8,1272.1L974.4,1276.2L975.1,1280.4L975.9,1284.6L976.4,1288.4L976.8,1291.6L977.0,1294.9L977.0,1300.0L1060.0,1300.0L1060.0,800.0ZM787.2,694.0L665.2,694.4L603.2,695.1L570.9,696.2L568.1,697.8L566.2,699.2L565.1,700.8L564.8,702.2L565.2,703.8L566.0,705.4L567.0,707.1L568.2,709.0L569.8,711.0L571.0,713.1L572.0,715.4L572.8,717.8L573.2,720.2L573.8,722.9L574.2,725.6L574.8,728.5L575.2,731.5L575.9,734.5L576.6,737.5L577.5,740.5L578.5,743.5L579.6,746.5L580.9,749.5L582.2,752.5L583.8,755.5L585.3,758.0L586.8,760.0L588.4,761.5L589.9,762.5L591.6,764.0L593.2,765.9L595.0,768.3L596.7,771.2L598.4,774.0L600.0,776.9L601.5,779.7L603.0,782.6L604.4,785.0L605.8,787.2L607.2,788.9L608.6,790.4L610.0,791.2L611.5,791.3L613.1,790.8L614.6,789.7L616.6,788.3L619.0,786.8L621.9,785.0L625.1,783.0L654.4,781.5L709.8,780.5L818.1,780.0L1060.0,780.0L1060.0,694.0ZM549.3,695.5a6.5,6.5 0 1,0 13.0,0a6.5,6.5 0 1,0 -13.0,0Z" fill="#fff7b3" fill-rule="evenodd" stroke="#000" stroke-width="3.0" stroke-linejoin="round"/>
<path d="M820.9,801.1L713.9,799.9L659.3,800.3L630.5,801.8L627.5,804.2L625.4,806.8L624.1,809.5L623.7,812.3L624.2,815.2L624.6,818.1L625.0,820.9L625.4,823.8L625.8,826.6L626.2,829.5L626.8,832.3L627.4,835.1L628.1,838.0L628.9,841.2L629.7,844.8L630.5,848.9L631.4,853.3L632.2,857.9L632.9,862.6L633.6,867.5L634.1,872.5L634.7,877.5L635.3,882.5L635.9,887.5L636.4,892.5L637.0,897.5L637.6,902.5L638.1,907.5L638.7,912.5L639.2,917.5L639.8,922.5L640.4,927.5L641.1,932.5L642.2,936.9L643.7,940.6L645.8,943.8L648.2,946.2L650.8,948.8L653.4,951.2L656.1,953.8L658.9,956.2L661.5,959.1L664.0,962.2L666.4,965.6L668.6,969.4L670.7,973.1L672.6,976.9L674.2,980.6L675.8,984.4L677.2,987.8L678.7,990.9L680.2,993.8L681.7,996.2L682.8,999.2L683.6,1002.6L684.1,1006.4L684.3,1010.6L684.6,1015.0L685.0,1019.5L685.7,1024.2L686.4,1029.0L687.4,1033.5L688.6,1037.7L690.1,1041.5L691.7,1045.1L693.6,1048.3L695.6,1051.3L697.8,1054.0L700.1,1056.3L702.5,1058.5L704.9,1060.5L707.2,1062.2L709.6,1063.7L712.2,1065.2L715.2,1066.7L718.4,1068.2L722.0,1069.8L725.7,1070.7L729.5,1071.1L733.5,1070.9L737.6,1070.1L741.2,1070.0L744.3,1070.6L746.8,1071.8L748.8,1073.7L751.1,1075.8L753.6,1078.3L756.3,1081.0L759.2,1084.1L762.4,1087.1L765.9,1090.2L769.6,1093.4L773.7,1096.6L777.7,1099.6L781.7,1102.4L785.6,1105.0L789.6,1107.4L793.4,1109.7L797.1,1112.0L800.8,1114.2L804.3,1116.3L807.9,1118.4L811.4,1120.4L815.0,1122.4L818.5,1124.3L822.0,1126.1L825.3,1127.7L828.5,1129.2L831.6,1130.5L834.5,1131.8L837.3,1133.1L840.0,1134.4L842.6,1135.7L846.7,1137.0L852.3,1138.3L859.5,1139.6L868.2,1141.0L874.7,1142.2L879.2,1143.2L881.5,1144.1L881.6,1144.9L881.8,1145.6L881.9,1146.4L882.1,1147.1L882.2,1147.9L882.4,1148.6L882.6,1149.4L882.8,1150.1L883.0,1150.9L883.6,1151.6L884.6,1152.4L885.9,1153.1L887.6,1153.9L889.2,1154.6L890.9,1155.4L892.6,1156.1L894.2,1156.9L895.6,1157.6L896.8,1158.4L897.7,1159.1L898.5,1159.9L899.2,1160.6L899.9,1161.4L900.5,1162.1L901.2,1162.9L901.8,1163.6L902.4,1164.4L903.0,1165.1L903.5,1165.9L904.0,1166.6L904.4,1167.4L904.8,1168.1L905.0,1168.9L905.3,1169.6L905.6,1170.4L905.9,1171.1L906.1,1171.9L906.4,1172.6L906.7,1173.4L906.9,1174.1L907.2,1174.9L907.5,1175.6L907.7,1176.4L908.0,1177.1L908.3,1177.9L908.6,1178.6L908.9,1179.4L909.2,1180.1L909.5,1180.9L909.8,1181.6L910.2,1182.4L910.5,1183.1L910.9,1183.9L911.2,1184.6L911.6,1185.4L912.0,1186.1L912.3,1186.9L912.7,1187.6L913.2,1188.4L913.8,1189.1L914.4,1189.9L915.2,1190.6L916.1,1191.4L917.1,1192.1L918.2,1192.9L919.4,1193.6L920.6,1194.4L921.8,1195.1L922.9,1195.9L924.4,1196.6L926.1,1197.4L928.1,1198.1L930.3,1198.9L932.6,1199.6L935.0,1200.4L937.4,1201.1L940.0,1201.9L942.4,1202.6L944.7,1203.4L947.0,1204.1L949.1,1204.9L950.9,1205.6L952.5,1206.4L953.8,1207.1L954.8,1207.9L955.9,1208.6L956.9,1209.4L957.9,1210.1L958.9,1210.9L959.9,1211.6L960.8,1212.4L961.7,1213.1L962.5,1213.9L963.3,1214.6L963.9,1215.4L964.4,1216.1L964.8,1216.9L965.1,1217.6L965.5,1218.4L965.8,1219.1L966.1,1219.9L966.4,1220.6L966.7,1221.4L967.0,1222.1L967.3,1222.9L967.6,1223.6L968.0,1224.4L968.3,1225.1L968.6,1225.9L968.8,1226.6L969.1,1227.4L969.2,1228.1L969.4,1228.9L969.5,1229.6L969.7,1230.4L969.8,1231.1L969.9,1231.9L970.1,1232.6L970.2,1233.4L970.4,1234.1L970.5,1234.9L970.6,1235.6L970.8,1236.4L970.9,1237.1L971.1,1237.9L971.2,1238.6L971.4,1239.4L971.5,1240.1L971.7,1240.9L971.8,1241.6L971.9,1242.4L972.1,1243.1L972.2,1243.9L972.3,1244.6L972.4,1245.4L972.5,1246.1L972.6,1246.9L972.7,1247.6L972.8,1248.4L972.9,1249.1L973.0,1249.9L973.1,1250.6L973.2,1251.4L973.3,1252.1L973.4,1252.9L973.5,1253.6L973.6,1254.4L973.7,1255.1L973.8,1255.9L973.9,1256.6L974.0,1257.4L974.1,1258.1L974.2,1258.9L974.3,1259.6L974.4,1260.4L974.5,1261.1L974.6,1261.9L974.7,1262.6L974.8,1263.4L974.9,1264.1L975.0,1264.9L975.1,1265.6L975.2,1266.4L975.3,1267.1L975.4,1267.9L975.5,1268.6L975.6,1269.4L975.7,1270.1L975.8,1270.9L975.9,1271.6L976.0,1272.4L976.1,1273.1L976.2,1273.9L976.3,1274.6L976.4,1275.4L976.6,1276.1L976.7,1276.9L976.8,1277.6L977.0,1278.4L977.1,1279.1L977.2,1279.9L977.4,1280.6L977.5,1281.4L977.6,1282.1L977.7,1282.9L977.9,1283.6L978.0,1284.4L978.1,1285.1L978.2,1285.9L978.3,1286.6L978.4,1287.4L978.6,1288.1L978.7,1288.9L978.8,1289.6L978.8,1290.4L978.9,1291.1L978.9,1291.9L979.0,1292.6L979.0,1293.4L979.0,1294.1L979.0,1294.9L979.0,1295.6L979.0,1296.4L979.0,1297.1L979.0,1297.9L984.1,1298.5L999.3,1299.2L1060.0,1300.0L1060.0,805.0Z" fill="#f7fcce" fill-rule="evenodd" stroke="#000" stroke-width="3.0" stroke-linejoin="round"/>
<path d="M830.5,836.6L727.6,835.8L674.9,836.2L646.8,837.8L643.2,840.2L640.6,842.6L638.9,844.9L638.0,847.0L638.0,849.0L638.1,851.0L638.3,853.0L638.5,855.0L638.9,857.0L639.4,859.4L640.0,862.3L640.8,865.6L641.7,869.4L642.6,873.0L643.5,876.5L644.5,879.9L645.5,883.1L646.5,886.3L647.6,889.4L648.7,892.5L649.9,895.5L651.2,899.0L652.7,903.0L654.4,907.5L656.2,912.5L658.2,917.5L660.2,922.5L662.4,927.5L664.6,932.5L666.9,936.9L669.3,940.6L671.8,943.8L674.2,946.2L676.6,948.8L678.9,951.2L681.0,953.8L683.0,956.2L684.7,959.1L686.1,962.2L687.1,965.6L687.9,969.4L688.6,973.1L689.2,976.9L689.8,980.6L690.2,984.4L690.7,987.6L691.1,990.4L691.5,992.6L691.8,994.4L692.0,996.4L692.0,998.6L692.0,1001.1L691.7,1003.8L691.7,1007.0L691.8,1010.8L692.1,1015.0L692.5,1019.7L693.2,1024.1L694.2,1028.3L695.3,1032.1L696.8,1035.7L698.2,1038.9L699.6,1041.9L701.0,1044.5L702.5,1046.9L704.2,1049.2L706.4,1051.6L708.9,1054.0L711.7,1056.3L714.6,1058.3L717.4,1059.8L720.2,1061.0L723.1,1061.7L725.8,1062.0L728.4,1062.1L731.0,1061.9L733.4,1061.4L735.8,1061.3L738.1,1061.8L740.3,1062.8L742.5,1064.4L744.6,1066.0L746.7,1067.7L748.8,1069.5L750.9,1071.5L753.2,1073.7L755.7,1076.1L758.3,1078.9L761.2,1081.9L764.4,1084.9L767.8,1088.0L771.5,1091.1L775.5,1094.2L779.4,1097.2L783.4,1100.0L787.3,1102.5L791.2,1104.9L795.0,1107.2L798.7,1109.4L802.3,1111.6L805.8,1113.7L809.4,1115.8L812.9,1117.8L816.4,1119.8L819.9,1121.7L823.3,1123.4L826.6,1125.0L829.8,1126.5L832.8,1127.8L835.8,1129.1L838.6,1130.4L841.4,1131.7L844.0,1133.0L848.1,1134.5L853.8,1136.2L861.1,1138.0L869.9,1140.0L876.6,1141.7L881.2,1143.1L883.6,1144.1L884.0,1144.9L884.4,1145.6L884.8,1146.4L885.2,1147.1L885.6,1147.9L886.0,1148.6L886.4,1149.4L887.0,1150.1L887.5,1150.9L888.4,1151.6L889.6,1152.4L891.0,1153.1L892.8,1153.9L894.6,1154.6L896.3,1155.4L898.0,1156.1L899.7,1156.9L901.1,1157.6L902.4,1158.4L903.4,1159.1L904.2,1159.9L905.0,1160.6L905.7,1161.4L906.4,1162.1L907.1,1162.9L907.7,1163.6L908.3,1164.4L908.9,1165.1L909.5,1165.9L910.0,1166.6L910.4,1167.4L910.8,1168.1L911.2,1168.9L911.5,1169.6L911.8,1170.4L912.1,1171.1L912.4,1171.9L912.7,1172.6L913.0,1173.4L913.2,1174.1L913.5,1174.9L913.8,1175.6L914.1,1176.4L914.4,1177.1L914.7,1177.9L915.0,1178.6L915.3,1179.4L915.7,1180.1L916.0,1180.9L916.3,1181.6L916.7,1182.4L917.1,1183.1L917.5,1183.9L918.0,1184.6L918.4,1185.4L918.8,1186.1L919.2,1186.9L919.7,1187.6L920.2,1188.4L920.8,1189.1L921.5,1189.9L922.2,1190.6L923.1,1191.4L924.0,1192.1L925.1,1192.9L926.2,1193.6L927.3,1194.4L928.4,1195.1L929.6,1195.9L930.9,1196.6L932.4,1197.4L934.2,1198.1L936.2,1198.9L938.2,1199.6L940.3,1200.4L942.4,1201.1L944.6,1201.9L946.8,1202.6L948.8,1203.4L950.8,1204.1L952.7,1204.9L954.4,1205.6L955.9,1206.4L957.1,1207.1L958.2,1207.9L959.2,1208.6L960.3,1209.4L961.3,1210.1L962.3,1210.9L963.3,1211.6L964.2,1212.4L965.1,1213.1L966.0,1213.9L966.7,1214.6L967.4,1215.4L967.9,1216.1L968.4,1216.9L968.8,1217.6L969.2,1218.4L969.5,1219.1L969.7,1219.9L970.0,1220.6L970.2,1221.4L970.5,1222.1L970.7,1222.9L971.0,1223.6L971.2,1224.4L971.4,1225.1L971.7,1225.9L971.9,1226.6L972.1,1227.4L972.3,1228.1L972.4,1228.9L972.5,1229.6L972.6,1230.4L972.8,1231.1L972.9,1231.9L973.0,1232.6L973.1,1233.4L973.3,1234.1L973.4,1234.9L973.5,1235.6L973.7,1236.4L973.8,1237.1L973.9,1237.9L974.1,1238.6L974.2,1239.4L974.4,1240.1L974.5,1240.9L974.7,1241.6L974.8,1242.4L974.9,1243.1L975.0,1243.9L975.1,1244.6L975.2,1245.4L975.4,1246.1L975.5,1246.9L975.6,1247.6L975.7,1248.4L975.8,1249.1L975.9,1249.9L976.0,1250.6L976.1,1251.4L976.2,1252.1L976.4,1252.9L976.5,1253.6L976.6,1254.4L976.7,1255.1L976.8,1255.9L976.9,1256.6L977.0,1257.4L977.1,1258.1L977.2,1258.9L977.3,1259.6L977.5,1260.4L977.6,1261.1L977.7,1261.9L977.8,1262.6L977.9,1263.4L978.0,1264.1L978.1,1264.9L978.2,1265.6L978.3,1266.4L978.5,1267.1L978.6,1267.9L978.7,1268.6L978.8,1269.4L978.9,1270.1L979.0,1270.9L979.1,1271.6L979.2,1272.4L979.3,1273.1L979.5,1273.9L979.6,1274.6L979.7,1275.4L979.9,1276.1L980.0,1276.9L980.1,1277.6L980.3,1278.4L980.4,1279.1L980.5,1279.9L980.7,1280.6L980.8,1281.4L980.9,1282.1L981.0,1282.9L981.1,1283.6L981.2,1284.4L981.3,1285.1L981.4,1285.9L981.5,1286.6L981.6,1287.4L981.7,1288.1L981.7,1288.9L981.8,1289.6L981.9,1290.4L981.9,1291.1L982.0,1291.9L982.0,1292.6L982.0,1293.4L982.0,1294.1L982.0,1294.9L982.0,1295.6L982.0,1296.4L982.0,1297.1L982.0,1297.9L986.9,1298.5L1001.5,1299.2L1060.0,1300.0L1060.0,840.0Z" fill="#e7f6ec" fill-rule="evenodd" stroke="#000" stroke-width="3.0" stroke-linejoin="round"/>
<path d="M869.9,979.0L785.0,980.1L742.0,982.3L719.8,985.6L718.2,989.9L716.6,992.7L715.0,994.0L713.2,993.7L711.2,991.7L709.4,990.1L707.6,988.8L705.9,987.9L704.3,987.1L702.6,986.8L701.0,986.8L699.3,987.1L697.6,987.9L696.3,989.6L695.4,992.3L694.8,996.0L694.5,1000.8L694.5,1005.5L694.8,1010.3L695.2,1015.0L695.9,1019.7L696.9,1023.8L698.1,1027.4L699.5,1030.3L701.2,1032.7L702.9,1035.0L704.7,1037.4L706.5,1039.8L708.4,1042.1L710.3,1044.4L712.3,1046.5L714.4,1048.5L716.5,1050.5L718.6,1052.1L720.6,1053.5L722.5,1054.7L724.5,1055.7L726.6,1056.5L729.0,1057.1L731.6,1057.5L734.5,1057.7L737.2,1058.3L739.8,1059.2L742.1,1060.5L744.3,1062.0L746.5,1063.7L748.6,1065.4L750.8,1067.3L752.9,1069.3L755.2,1071.5L757.7,1074.0L760.4,1076.7L763.3,1079.7L766.4,1082.7L769.8,1085.7L773.4,1088.8L777.3,1091.9L781.2,1094.8L785.1,1097.5L788.9,1100.0L792.8,1102.4L796.6,1104.6L800.2,1106.9L803.8,1109.0L807.4,1111.1L810.9,1113.2L814.4,1115.2L817.8,1117.1L821.3,1119.0L824.7,1120.7L827.9,1122.3L831.1,1123.8L834.1,1125.1L837.1,1126.4L839.9,1127.7L842.7,1129.0L845.4,1130.4L848.1,1131.8L850.9,1133.4L853.8,1135.1L856.8,1136.8L860.5,1138.4L864.9,1139.7L870.1,1140.8L876.0,1141.7L880.6,1142.5L883.9,1143.3L885.8,1144.1L886.5,1144.9L887.1,1145.6L887.7,1146.4L888.3,1147.1L888.9,1147.9L889.6,1148.6L890.3,1149.4L891.1,1150.1L892.0,1150.9L893.2,1151.6L894.6,1152.4L896.2,1153.1L898.1,1153.9L899.9,1154.6L901.7,1155.4L903.5,1156.1L905.1,1156.9L906.6,1157.6L907.9,1158.4L909.0,1159.1L910.0,1159.9L910.8,1160.6L911.6,1161.4L912.3,1162.1L913.0,1162.9L913.6,1163.6L914.2,1164.4L914.8,1165.1L915.4,1165.9L916.0,1166.6L916.5,1167.4L916.9,1168.1L917.3,1168.9L917.7,1169.6L918.0,1170.4L918.3,1171.1L918.6,1171.9L919.0,1172.6L919.3,1173.4L919.6,1174.1L919.9,1174.9L920.2,1175.6L920.5,1176.4L920.8,1177.1L921.1,1177.9L921.5,1178.6L921.8,1179.4L922.1,1180.1L922.5,1180.9L922.9,1181.6L923.3,1182.4L923.7,1183.1L924.2,1183.9L924.7,1184.6L925.2,1185.4L925.7,1186.1L926.2,1186.9L926.7,1187.6L927.2,1188.4L927.9,1189.1L928.5,1189.9L929.2,1190.6L930.1,1191.4L931.0,1192.1L932.0,1192.9L933.0,1193.6L934.0,1194.4L935.1,1195.1L936.2,1195.9L937.4,1196.6L938.8,1197.4L940.3,1198.1L942.0,1198.9L943.8,1199.6L945.6,1200.4L947.4,1201.1L949.3,1201.9L951.2,1202.6L952.9,1203.4L954.7,1204.1L956.4,1204.9L957.9,1205.6L959.3,1206.4L960.5,1207.1L961.5,1207.9L962.6,1208.6L963.6,1209.4L964.7,1210.1L965.7,1210.9L966.6,1211.6L967.6,1212.4L968.5,1213.1L969.4,1213.9L970.2,1214.6L970.9,1215.4L971.5,1216.1L972.1,1216.9L972.5,1217.6L972.9,1218.4L973.2,1219.1L973.4,1219.9L973.5,1220.6L973.7,1221.4L973.9,1222.1L974.1,1222.9L974.3,1223.6L974.4,1224.4L974.6,1225.1L974.8,1225.9L975.0,1226.6L975.1,1227.4L975.3,1228.1L975.4,1228.9L975.5,1229.6L975.6,1230.4L975.7,1231.1L975.8,1231.9L976.0,1232.6L976.1,1233.4L976.2,1234.1L976.3,1234.9L976.4,1235.6L976.5,1236.4L976.7,1237.1L976.8,1237.9L976.9,1238.6L977.1,1239.4L977.2,1240.1L977.4,1240.9L977.5,1241.6L977.7,1242.4L977.8,1243.1L977.9,1243.9L978.0,1244.6L978.1,1245.4L978.3,1246.1L978.4,1246.9L978.5,1247.6L978.6,1248.4L978.7,1249.1L978.9,1249.9L979.0,1250.6L979.1,1251.4L979.2,1252.1L979.4,1252.9L979.5,1253.6L979.6,1254.4L979.7,1255.1L979.8,1255.9L980.0,1256.6L980.1,1257.4L980.2,1258.1L980.3,1258.9L980.4,1259.6L980.6,1260.4L980.7,1261.1L980.8,1261.9L980.9,1262.6L981.0,1263.4L981.2,1264.1L981.3,1264.9L981.4,1265.6L981.5,1266.4L981.6,1267.1L981.8,1267.9L981.9,1268.6L982.0,1269.4L982.1,1270.1L982.2,1270.9L982.4,1271.6L982.5,1272.4L982.6,1273.1L982.7,1273.9L982.9,1274.6L983.0,1275.4L983.1,1276.1L983.3,1276.9L983.4,1277.6L983.6,1278.4L983.7,1279.1L983.8,1279.9L984.0,1280.6L984.1,1281.4L984.2,1282.1L984.3,1282.9L984.3,1283.6L984.4,1284.4L984.5,1285.1L984.5,1285.9L984.6,1286.6L984.7,1287.4L984.8,1288.1L984.8,1288.9L984.9,1289.6L984.9,1290.4L985.0,1291.1L985.0,1291.9L985.0,1292.6L985.0,1293.4L985.0,1294.1L985.0,1294.9L985.1,1295.6L985.1,1296.4L985.1,1297.1L985.1,1297.9L989.8,1298.5L1003.8,1299.2L1060.0,1300.0L1060.0,979.0ZM665.6,894.9L666.2,894.1L667.1,893.9L668.2,894.1L669.8,894.9L671.2,896.0L672.8,897.5L674.2,899.4L675.8,901.6L677.2,903.9L678.8,906.3L680.2,908.8L681.8,911.2L683.1,914.0L684.4,917.0L685.5,920.2L686.5,923.8L686.8,926.5L686.2,928.5L685.0,929.8L683.0,930.2L681.1,929.9L679.2,928.8L677.4,926.9L675.6,924.1L674.1,921.3L672.7,918.4L671.5,915.5L670.5,912.5L669.5,909.6L668.5,906.9L667.5,904.2L666.5,901.8L665.8,899.6L665.4,897.7L665.4,896.1ZM637.5,845.8L637.1,844.1L637.4,843.4L638.2,843.5L639.8,844.5L641.4,846.0L643.1,848.0L645.0,850.5L647.0,853.5L649.0,856.6L651.0,859.7L653.0,862.9L655.0,866.1L656.8,869.1L658.4,871.9L659.9,874.4L661.1,876.6L661.8,878.3L661.8,879.4L661.1,880.0L659.9,880.0L658.3,879.1L656.4,877.4L654.2,874.8L651.8,871.2L649.4,867.8L647.1,864.2L645.0,860.8L643.0,857.2L641.2,854.0L639.8,851.0L638.5,848.2ZM658.8,893.8L658.7,891.6L659.1,889.9L659.9,888.5L661.1,887.5L662.4,887.3L663.8,887.9L665.2,889.4L666.8,891.6L668.0,893.9L669.0,896.3L669.8,898.8L670.2,901.2L670.3,903.3L669.9,904.9L669.1,906.1L667.9,906.9L666.6,906.9L665.2,906.3L663.8,905.0L662.2,903.0L661.0,900.9L660.0,898.6L659.2,896.2Z" fill="#cfebf3" fill-rule="evenodd" stroke="#000" stroke-width="2.0" stroke-linejoin="round"/>
<path d="M872.1,1012.0L788.2,1011.2L745.8,1009.8L723.8,1007.5L722.2,1004.5L720.6,1001.8L718.9,999.2L717.0,997.0L715.0,995.0L713.0,993.4L711.0,992.1L709.0,991.2L707.0,990.8L705.2,990.6L703.5,990.8L702.1,991.4L700.8,992.3L699.8,993.9L699.0,996.1L698.6,999.0L698.3,1002.6L698.4,1006.1L698.8,1009.7L699.4,1013.2L700.4,1016.7L701.5,1020.0L702.8,1022.9L704.3,1025.6L705.9,1027.9L707.6,1030.3L709.4,1032.7L711.2,1035.1L713.2,1037.4L714.9,1039.6L716.6,1041.6L718.1,1043.5L719.5,1045.1L720.9,1046.6L722.3,1048.0L723.6,1049.2L725.0,1050.3L726.8,1051.4L729.2,1052.4L732.1,1053.4L735.5,1054.3L738.6,1055.4L741.4,1056.6L743.9,1058.1L746.1,1059.6L748.4,1061.3L750.6,1063.1L752.7,1065.0L754.9,1067.1L757.3,1069.3L759.8,1071.8L762.5,1074.5L765.3,1077.5L768.4,1080.4L771.8,1083.4L775.3,1086.5L779.2,1089.5L783.0,1092.4L786.8,1095.0L790.6,1097.5L794.4,1099.8L798.1,1102.1L801.8,1104.3L805.4,1106.4L808.9,1108.5L812.4,1110.6L815.8,1112.6L819.3,1114.5L822.7,1116.3L826.0,1118.1L829.2,1119.6L832.4,1121.1L835.4,1122.4L838.3,1123.7L841.2,1125.0L844.0,1126.3L846.7,1127.7L849.5,1129.2L852.4,1130.8L855.3,1132.4L858.2,1134.2L862.0,1136.0L866.4,1137.6L871.6,1139.2L877.6,1140.7L882.3,1142.1L885.7,1143.2L887.8,1144.1L888.6,1144.9L889.5,1145.6L890.3,1146.4L891.1,1147.1L891.9,1147.9L892.7,1148.6L893.7,1149.4L894.8,1150.1L896.0,1150.9L897.4,1151.6L899.0,1152.4L900.8,1153.1L902.8,1153.9L904.7,1154.6L906.5,1155.4L908.3,1156.1L910.0,1156.9L911.5,1157.6L912.9,1158.4L914.0,1159.1L915.1,1159.9L916.0,1160.6L916.8,1161.4L917.6,1162.1L918.2,1162.9L918.9,1163.6L919.5,1164.4L920.1,1165.1L920.7,1165.9L921.3,1166.6L921.8,1167.4L922.3,1168.1L922.7,1168.9L923.1,1169.6L923.5,1170.4L923.9,1171.1L924.2,1171.9L924.5,1172.6L924.9,1173.4L925.2,1174.1L925.5,1174.9L925.9,1175.6L926.2,1176.4L926.5,1177.1L926.9,1177.9L927.2,1178.6L927.5,1179.4L927.9,1180.1L928.2,1180.9L928.6,1181.6L929.1,1182.4L929.6,1183.1L930.1,1183.9L930.7,1184.6L931.2,1185.4L931.8,1186.1L932.3,1186.9L932.9,1187.6L933.5,1188.4L934.1,1189.1L934.8,1189.9L935.5,1190.6L936.3,1191.4L937.1,1192.1L938.1,1192.9L939.0,1193.6L940.0,1194.4L941.0,1195.1L942.0,1195.9L943.2,1196.6L944.4,1197.4L945.8,1198.1L947.2,1198.9L948.7,1199.6L950.3,1200.4L951.8,1201.1L953.5,1201.9L955.0,1202.6L956.6,1203.4L958.1,1204.1L959.6,1204.9L961.0,1205.6L962.3,1206.4L963.5,1207.1L964.5,1207.9L965.6,1208.6L966.6,1209.4L967.6,1210.1L968.6,1210.9L969.6,1211.6L970.6,1212.4L971.5,1213.1L972.4,1213.9L973.3,1214.6L974.0,1215.4L974.7,1216.1L975.3,1216.9L975.8,1217.6L976.2,1218.4L976.4,1219.1L976.6,1219.9L976.7,1220.6L976.8,1221.4L976.9,1222.1L977.1,1222.9L977.2,1223.6L977.3,1224.4L977.5,1225.1L977.6,1225.9L977.7,1226.6L977.8,1227.4L978.0,1228.1L978.1,1228.9L978.2,1229.6L978.3,1230.4L978.4,1231.1L978.5,1231.9L978.6,1232.6L978.7,1233.4L978.8,1234.1L978.9,1234.9L979.0,1235.6L979.1,1236.4L979.2,1237.1L979.3,1237.9L979.5,1238.6L979.6,1239.4L979.8,1240.1L979.9,1240.9L980.1,1241.6L980.2,1242.4L980.3,1243.1L980.5,1243.9L980.6,1244.6L980.7,1245.4L980.9,1246.1L981.0,1246.9L981.1,1247.6L981.2,1248.4L981.4,1249.1L981.5,1249.9L981.6,1250.6L981.8,1251.4L981.9,1252.1L982.0,1252.9L982.1,1253.6L982.3,1254.4L982.4,1255.1L982.5,1255.9L982.7,1256.6L982.8,1257.4L982.9,1258.1L983.0,1258.9L983.2,1259.6L983.3,1260.4L983.4,1261.1L983.6,1261.9L983.7,1262.6L983.8,1263.4L984.0,1264.1L984.1,1264.9L984.2,1265.6L984.3,1266.4L984.5,1267.1L984.6,1267.9L984.7,1268.6L984.9,1269.4L985.0,1270.1L985.1,1270.9L985.2,1271.6L985.4,1272.4L985.5,1273.1L985.6,1273.9L985.8,1274.6L985.9,1275.4L986.1,1276.1L986.2,1276.9L986.3,1277.6L986.5,1278.4L986.6,1279.1L986.8,1279.9L986.9,1280.6L987.0,1281.4L987.1,1282.1L987.1,1282.9L987.2,1283.6L987.3,1284.4L987.3,1285.1L987.4,1285.9L987.4,1286.6L987.5,1287.4L987.5,1288.1L987.6,1288.9L987.6,1289.6L987.6,1290.4L987.7,1291.1L987.7,1291.9L987.7,1292.6L987.7,1293.4L987.7,1294.1L987.7,1294.9L987.7,1295.6L987.7,1296.4L987.7,1297.1L987.8,1297.9L992.3,1298.5L1005.8,1299.2L1060.0,1300.0L1060.0,1012.0Z" fill="#b3ddeb" fill-rule="evenodd" stroke="#000" stroke-width="2.0" stroke-linejoin="round"/>
<path d="M872.7,1016.0L788.8,1015.1L745.8,1013.2L722.9,1010.4L720.1,1006.6L717.6,1003.6L715.2,1001.2L713.0,999.5L711.0,998.5L709.2,998.0L707.6,998.0L706.1,998.5L704.9,999.5L703.9,1001.1L703.3,1003.4L703.0,1006.2L703.0,1009.8L703.3,1013.1L703.9,1016.2L704.9,1019.1L706.1,1021.9L707.6,1024.6L709.2,1027.2L711.0,1029.8L713.0,1032.2L715.0,1034.7L717.0,1037.1L719.0,1039.4L721.0,1041.6L722.9,1043.6L724.8,1045.4L726.6,1046.9L728.4,1048.1L730.4,1049.3L732.7,1050.3L735.3,1051.2L738.1,1052.0L740.8,1053.0L743.3,1054.3L745.7,1055.7L748.0,1057.3L750.2,1059.0L752.5,1060.8L754.7,1062.8L757.0,1064.9L759.3,1067.1L761.9,1069.6L764.6,1072.3L767.4,1075.3L770.4,1078.2L773.7,1081.2L777.2,1084.1L781.0,1087.1L784.7,1089.9L788.5,1092.6L792.3,1095.0L796.0,1097.3L799.7,1099.5L803.3,1101.7L806.9,1103.9L810.4,1105.9L813.8,1108.0L817.3,1109.9L820.7,1111.8L824.1,1113.7L827.3,1115.4L830.5,1116.9L833.7,1118.4L836.7,1119.6L839.6,1120.9L842.5,1122.3L845.4,1123.6L848.1,1125.0L850.9,1126.5L853.8,1128.1L856.8,1129.8L859.7,1131.6L863.5,1133.5L867.9,1135.5L873.2,1137.6L879.2,1139.8L883.9,1141.6L887.4,1143.0L889.7,1144.1L890.8,1144.9L891.8,1145.6L892.8,1146.4L893.8,1147.1L894.8,1147.9L895.9,1148.6L897.2,1149.4L898.5,1150.1L900.0,1150.9L901.7,1151.6L903.4,1152.4L905.4,1153.1L907.5,1153.9L909.4,1154.6L911.3,1155.4L913.1,1156.1L914.8,1156.9L916.4,1157.6L917.8,1158.4L919.1,1159.1L920.2,1159.9L921.2,1160.6L922.0,1161.4L922.8,1162.1L923.5,1162.9L924.1,1163.6L924.8,1164.4L925.4,1165.1L926.0,1165.9L926.6,1166.6L927.2,1167.4L927.7,1168.1L928.2,1168.9L928.6,1169.6L929.0,1170.4L929.4,1171.1L929.8,1171.9L930.1,1172.6L930.5,1173.4L930.8,1174.1L931.2,1174.9L931.5,1175.6L931.9,1176.4L932.2,1177.1L932.6,1177.9L932.9,1178.6L933.3,1179.4L933.6,1180.1L934.0,1180.9L934.4,1181.6L934.9,1182.4L935.4,1183.1L936.0,1183.9L936.6,1184.6L937.2,1185.4L937.8,1186.1L938.5,1186.9L939.1,1187.6L939.7,1188.4L940.4,1189.1L941.0,1189.9L941.7,1190.6L942.5,1191.4L943.3,1192.1L944.2,1192.9L945.0,1193.6L946.0,1194.4L946.9,1195.1L947.9,1195.9L948.9,1196.6L950.0,1197.4L951.2,1198.1L952.4,1198.9L953.7,1199.6L955.0,1200.4L956.3,1201.1L957.6,1201.9L958.9,1202.6L960.2,1203.4L961.6,1204.1L962.9,1204.9L964.1,1205.6L965.3,1206.4L966.5,1207.1L967.5,1207.9L968.6,1208.6L969.6,1209.4L970.6,1210.1L971.6,1210.9L972.6,1211.6L973.6,1212.4L974.5,1213.1L975.5,1213.9L976.3,1214.6L977.1,1215.4L977.9,1216.1L978.6,1216.9L979.1,1217.6L979.5,1218.4L979.7,1219.1L979.8,1219.9L979.9,1220.6L979.9,1221.4L980.0,1222.1L980.1,1222.9L980.1,1223.6L980.2,1224.4L980.3,1225.1L980.4,1225.9L980.5,1226.6L980.5,1227.4L980.6,1228.1L980.7,1228.9L980.8,1229.6L980.9,1230.4L981.0,1231.1L981.1,1231.9L981.2,1232.6L981.3,1233.4L981.4,1234.1L981.4,1234.9L981.5,1235.6L981.6,1236.4L981.8,1237.1L981.9,1237.9L982.0,1238.6L982.2,1239.4L982.3,1240.1L982.4,1240.9L982.6,1241.6L982.7,1242.4L982.9,1243.1L983.0,1243.9L983.2,1244.6L983.3,1245.4L983.4,1246.1L983.6,1246.9L983.7,1247.6L983.9,1248.4L984.0,1249.1L984.1,1249.9L984.3,1250.6L984.4,1251.4L984.5,1252.1L984.7,1252.9L984.8,1253.6L985.0,1254.4L985.1,1255.1L985.2,1255.9L985.4,1256.6L985.5,1257.4L985.6,1258.1L985.8,1258.9L985.9,1259.6L986.1,1260.4L986.2,1261.1L986.3,1261.9L986.5,1262.6L986.6,1263.4L986.7,1264.1L986.9,1264.9L987.0,1265.6L987.2,1266.4L987.3,1267.1L987.4,1267.9L987.6,1268.6L987.7,1269.4L987.9,1270.1L988.0,1270.9L988.1,1271.6L988.3,1272.4L988.4,1273.1L988.6,1273.9L988.7,1274.6L988.8,1275.4L989.0,1276.1L989.1,1276.9L989.3,1277.6L989.4,1278.4L989.6,1279.1L989.7,1279.9L989.8,1280.6L989.9,1281.4L990.0,1282.1L990.0,1282.9L990.1,1283.6L990.1,1284.4L990.2,1285.1L990.2,1285.9L990.2,1286.6L990.2,1287.4L990.3,1288.1L990.3,1288.9L990.3,1289.6L990.3,1290.4L990.3,1291.1L990.4,1291.9L990.4,1292.6L990.4,1293.4L990.4,1294.1L990.4,1294.9L990.4,1295.6L990.4,1296.4L990.4,1297.1L990.4,1297.9L994.8,1298.5L1007.8,1299.2L1060.0,1300.0L1060.0,1016.0Z" fill="#97c9e0" fill-rule="evenodd" stroke="#000" stroke-width="2.0" stroke-linejoin="round"/>
<path d="M872.1,1020.0L788.1,1019.5L745.4,1018.5L723.0,1017.0L721.0,1015.0L719.1,1013.8L717.2,1013.2L715.4,1013.5L713.6,1014.5L712.3,1015.9L711.4,1017.8L711.0,1020.1L711.0,1022.9L711.4,1025.5L712.3,1028.0L713.6,1030.4L715.4,1032.6L717.3,1034.9L719.4,1037.3L721.8,1039.8L724.2,1042.2L726.7,1044.5L729.1,1046.5L731.4,1048.2L733.6,1049.8L735.8,1050.8L737.8,1051.4L739.6,1051.6L741.4,1051.4L743.3,1051.6L745.3,1052.3L747.4,1053.4L749.7,1055.1L752.0,1056.8L754.3,1058.7L756.6,1060.7L758.9,1062.8L761.3,1065.1L763.8,1067.6L766.5,1070.3L769.3,1073.2L772.3,1076.1L775.6,1079.1L779.0,1082.0L782.7,1084.9L786.4,1087.7L790.1,1090.3L793.8,1092.7L797.5,1094.9L801.2,1097.2L804.8,1099.3L808.3,1101.4L811.8,1103.5L815.2,1105.5L818.6,1107.5L822.0,1109.4L825.3,1111.2L828.6,1112.9L831.8,1114.4L834.9,1115.8L837.9,1117.1L840.8,1118.4L843.7,1119.8L846.6,1121.1L849.4,1122.6L852.3,1124.1L855.2,1125.7L858.1,1127.4L861.1,1129.2L864.1,1131.0L867.2,1132.8L870.3,1134.5L873.5,1136.3L876.6,1137.8L879.6,1139.2L882.4,1140.4L885.2,1141.4L887.7,1142.4L889.7,1143.3L891.3,1144.1L892.5,1144.9L893.8,1145.6L894.9,1146.4L896.1,1147.1L897.2,1147.9L898.5,1148.6L900.0,1149.4L901.5,1150.1L903.3,1150.9L905.1,1151.6L907.1,1152.4L909.1,1153.1L911.3,1153.9L913.3,1154.6L915.2,1155.4L917.1,1156.1L918.8,1156.9L920.4,1157.6L921.8,1158.4L923.1,1159.1L924.3,1159.9L925.4,1160.6L926.3,1161.4L927.1,1162.1L927.7,1162.9L928.4,1163.6L929.0,1164.4L929.7,1165.1L930.3,1165.9L930.9,1166.6L931.5,1167.4L932.1,1168.1L932.6,1168.9L933.1,1169.6L933.5,1170.4L933.9,1171.1L934.3,1171.9L934.7,1172.6L935.0,1173.4L935.4,1174.1L935.7,1174.9L936.1,1175.6L936.5,1176.4L936.8,1177.1L937.2,1177.9L937.6,1178.6L937.9,1179.4L938.3,1180.1L938.7,1180.9L939.1,1181.6L939.6,1182.4L940.2,1183.1L940.8,1183.9L941.5,1184.6L942.1,1185.4L942.8,1186.1L943.4,1186.9L944.1,1187.6L944.8,1188.4L945.4,1189.1L946.1,1189.9L946.8,1190.6L947.6,1191.4L948.3,1192.1L949.1,1192.9L949.9,1193.6L950.8,1194.4L951.7,1195.1L952.7,1195.9L953.6,1196.6L954.6,1197.4L955.6,1198.1L956.7,1198.9L957.7,1199.6L958.8,1200.4L959.9,1201.1L961.0,1201.9L962.1,1202.6L963.2,1203.4L964.4,1204.1L965.5,1204.9L966.7,1205.6L967.8,1206.4L968.9,1207.1L970.0,1207.9L971.0,1208.6L972.1,1209.4L973.1,1210.1L974.1,1210.9L975.0,1211.6L976.0,1212.4L977.0,1213.1L977.9,1213.9L978.8,1214.6L979.7,1215.4L980.5,1216.1L981.2,1216.9L981.8,1217.6L982.2,1218.4L982.4,1219.1L982.4,1219.9L982.4,1220.6L982.4,1221.4L982.5,1222.1L982.5,1222.9L982.5,1223.6L982.6,1224.4L982.6,1225.1L982.6,1225.9L982.7,1226.6L982.7,1227.4L982.8,1228.1L982.9,1228.9L983.0,1229.6L983.1,1230.4L983.1,1231.1L983.2,1231.9L983.3,1232.6L983.4,1233.4L983.5,1234.1L983.5,1234.9L983.6,1235.6L983.7,1236.4L983.8,1237.1L984.0,1237.9L984.1,1238.6L984.2,1239.4L984.4,1240.1L984.5,1240.9L984.7,1241.6L984.8,1242.4L985.0,1243.1L985.1,1243.9L985.2,1244.6L985.4,1245.4L985.5,1246.1L985.7,1246.9L985.8,1247.6L986.0,1248.4L986.1,1249.1L986.3,1249.9L986.4,1250.6L986.6,1251.4L986.7,1252.1L986.8,1252.9L987.0,1253.6L987.1,1254.4L987.3,1255.1L987.4,1255.9L987.6,1256.6L987.7,1257.4L987.9,1258.1L988.0,1258.9L988.1,1259.6L988.3,1260.4L988.4,1261.1L988.6,1261.9L988.7,1262.6L988.9,1263.4L989.0,1264.1L989.2,1264.9L989.3,1265.6L989.5,1266.4L989.6,1267.1L989.8,1267.9L989.9,1268.6L990.0,1269.4L990.2,1270.1L990.3,1270.9L990.5,1271.6L990.6,1272.4L990.8,1273.1L990.9,1273.9L991.1,1274.6L991.2,1275.4L991.4,1276.1L991.5,1276.9L991.7,1277.6L991.8,1278.4L991.9,1279.1L992.1,1279.9L992.2,1280.6L992.3,1281.4L992.4,1282.1L992.4,1282.9L992.4,1283.6L992.4,1284.4L992.5,1285.1L992.5,1285.9L992.5,1286.6L992.5,1287.4L992.5,1288.1L992.5,1288.9L992.5,1289.6L992.5,1290.4L992.5,1291.1L992.5,1291.9L992.6,1292.6L992.6,1293.4L992.6,1294.1L992.6,1294.9L992.6,1295.6L992.6,1296.4L992.6,1297.1L992.6,1297.9L996.8,1298.5L1009.5,1299.2L1060.0,1300.0L1060.0,1020.0Z" fill="#7ab2d4" fill-rule="evenodd" stroke="#000" stroke-width="2.0" stroke-linejoin="round"/>
<path d="M979.5,1245.5L977.8,1242.4L975.2,1241.3L972.0,1242.1L968.0,1244.9L963.6,1247.1L958.9,1248.9L953.8,1250.1L948.2,1250.9L943.1,1251.8L938.4,1252.9L934.0,1254.2L930.0,1255.8L926.4,1257.2L923.3,1258.8L920.6,1260.2L918.4,1261.8L916.3,1263.2L914.4,1264.8L912.8,1266.2L911.2,1267.8L909.8,1269.2L908.4,1270.8L907.1,1272.2L905.9,1273.8L904.8,1275.3L903.8,1276.9L902.9,1278.6L902.1,1280.4L901.5,1282.8L901.0,1285.8L900.6,1290.4L900.0,1300.0L913.0,1300.0L913.0,1292.7L913.2,1288.9L913.8,1286.3L914.5,1284.0L915.5,1282.0L916.8,1280.1L918.2,1278.2L920.0,1276.4L922.0,1274.6L924.2,1273.0L926.6,1271.5L929.1,1270.1L931.9,1268.9L934.8,1267.8L937.9,1266.8L941.2,1265.9L944.8,1265.1L948.4,1264.4L952.1,1263.8L956.0,1263.2L960.0,1262.8L964.0,1262.1L968.0,1261.4L972.0,1260.5L976.0,1259.5L978.8,1257.5L980.2,1254.5L980.5,1250.5Z" fill="#fdb668" fill-rule="evenodd" stroke="#000" stroke-width="2.0" stroke-linejoin="round"/>
<path d="M979.5,1249.5L977.8,1246.4L975.2,1245.1L972.0,1245.8L968.0,1248.2L963.8,1250.4L959.2,1252.1L954.5,1253.5L949.5,1254.5L944.9,1255.6L940.6,1256.7L936.8,1257.9L933.2,1259.1L930.1,1260.4L927.4,1261.8L925.0,1263.2L923.0,1264.8L921.2,1266.3L919.6,1267.9L918.1,1269.6L916.9,1271.4L915.8,1273.1L914.9,1274.9L914.2,1276.6L913.8,1278.4L913.3,1280.2L912.9,1282.2L912.6,1284.4L912.4,1286.6L912.5,1288.3L913.0,1289.4L913.9,1290.0L915.1,1290.0L916.2,1289.4L917.1,1288.3L917.8,1286.6L918.2,1284.4L919.0,1282.2L920.0,1280.2L921.2,1278.4L922.8,1276.6L924.5,1274.9L926.5,1273.3L928.8,1271.8L931.2,1270.2L934.1,1269.0L937.2,1268.0L940.6,1267.2L944.4,1266.8L948.2,1266.2L952.1,1265.8L956.0,1265.2L960.0,1264.8L964.0,1264.2L968.0,1263.8L972.0,1263.2L976.0,1262.8L978.8,1261.1L980.2,1258.4L980.5,1254.5Z" fill="#fee79a" fill-rule="evenodd" stroke="#000" stroke-width="2.0" stroke-linejoin="round"/>
<path d="M981.1,1258.2L979.9,1254.5L978.3,1252.5L976.2,1252.2L973.8,1253.8L971.8,1255.2L970.2,1256.8L969.2,1258.2L968.8,1259.8L968.8,1261.4L969.4,1263.1L970.6,1265.0L972.4,1267.0L974.2,1268.6L976.1,1269.9L978.0,1270.8L980.0,1271.2L981.3,1270.2L981.9,1267.8L981.9,1263.8Z" fill="#cfebf3" fill-rule="evenodd" stroke="#000" stroke-width="2.0" stroke-linejoin="round"/>
<ellipse cx="370" cy="188" rx="2.7" ry="2.3" fill="#000"/>
<ellipse cx="386" cy="282" rx="2.7" ry="2.3" fill="#000"/>
<ellipse cx="381" cy="295" rx="2.7" ry="2.3" fill="#000"/>
<ellipse cx="301" cy="298" rx="2.7" ry="2.3" fill="#000"/>
<ellipse cx="220" cy="352.5" rx="2.7" ry="2.3" fill="#000"/>
<ellipse cx="430" cy="371" rx="2.7" ry="2.3" fill="#000"/>
<ellipse cx="372.5" cy="435" rx="2.7" ry="2.3" fill="#000"/>
<ellipse cx="405" cy="472" rx="2.7" ry="2.3" fill="#000"/>
<ellipse cx="122" cy="385" rx="2.7" ry="2.3" fill="#000"/>
<ellipse cx="255" cy="636" rx="2.7" ry="2.3" fill="#000"/>
<ellipse cx="270" cy="657" rx="2.7" ry="2.3" fill="#000"/>
<ellipse cx="397.5" cy="667.5" rx="2.7" ry="2.3" fill="#000"/>
<ellipse cx="407" cy="685" rx="2.7" ry="2.3" fill="#000"/>
<ellipse cx="427" cy="727" rx="2.7" ry="2.3" fill="#000"/>
<ellipse cx="385" cy="792" rx="2.7" ry="2.3" fill="#000"/>
<ellipse cx="604.5" cy="297.5" rx="2.7" ry="2.3" fill="#000"/>
<ellipse cx="604.5" cy="310" rx="2.7" ry="2.3" fill="#000"/>
<ellipse cx="449.5" cy="430" rx="2.7" ry="2.3" fill="#000"/>
<ellipse cx="447" cy="455" rx="2.7" ry="2.3" fill="#000"/>
<ellipse cx="250" cy="955" rx="2.7" ry="2.3" fill="#000"/>
<ellipse cx="314" cy="962.5" rx="2.7" ry="2.3" fill="#000"/>
<ellipse cx="421" cy="1017" rx="2.7" ry="2.3" fill="#000"/>
<ellipse cx="355" cy="1056" rx="2.7" ry="2.3" fill="#000"/>
<ellipse cx="320" cy="1147.5" rx="2.7" ry="2.3" fill="#000"/>
<ellipse cx="335" cy="1172.5" rx="2.7" ry="2.3" fill="#000"/>
<ellipse cx="405" cy="1220" rx="2.7" ry="2.3" fill="#000"/>
<ellipse cx="527" cy="1017" rx="2.7" ry="2.3" fill="#000"/>
<ellipse cx="557" cy="1019" rx="2.7" ry="2.3" fill="#000"/>
<ellipse cx="565" cy="1020" rx="2.7" ry="2.3" fill="#000"/>
<ellipse cx="638" cy="1042" rx="2.7" ry="2.3" fill="#000"/>
<ellipse cx="641" cy="1067" rx="2.7" ry="2.3" fill="#000"/>
<ellipse cx="573" cy="1094" rx="2.7" ry="2.3" fill="#000"/>
<ellipse cx="483" cy="263" rx="2.7" ry="2.3" fill="#000"/>
<ellipse cx="522" cy="360" rx="2.7" ry="2.3" fill="#000"/>
<ellipse cx="528" cy="403" rx="2.7" ry="2.3" fill="#000"/>
<ellipse cx="565" cy="393" rx="2.7" ry="2.3" fill="#000"/>
<ellipse cx="544" cy="585" rx="2.7" ry="2.3" fill="#000"/>
<ellipse cx="449" cy="570" rx="2.7" ry="2.3" fill="#000"/>
<ellipse cx="437" cy="600" rx="2.7" ry="2.3" fill="#000"/>
<ellipse cx="469" cy="740" rx="2.7" ry="2.3" fill="#000"/>
<ellipse cx="455" cy="803" rx="2.7" ry="2.3" fill="#000"/>
<ellipse cx="504" cy="757" rx="2.7" ry="2.3" fill="#000"/>
<ellipse cx="549" cy="795" rx="2.7" ry="2.3" fill="#000"/>
<ellipse cx="610" cy="845" rx="2.7" ry="2.3" fill="#000"/>
<ellipse cx="638" cy="1042" rx="2.7" ry="2.3" fill="#000"/>
<ellipse cx="728" cy="1138" rx="2.7" ry="2.3" fill="#000"/>
<ellipse cx="832" cy="1255" rx="2.7" ry="2.3" fill="#000"/>
<ellipse cx="847" cy="1271" rx="2.7" ry="2.3" fill="#000"/>
<ellipse cx="863" cy="1220" rx="2.7" ry="2.3" fill="#000"/>
<ellipse cx="899" cy="1188" rx="2.7" ry="2.3" fill="#000"/>
<path d="M137,440L141,436L146,433L150,430.5L153.5,430L154.5,433L150,437L146,440L141,442Z" fill="#e8f6ee" stroke="#000" stroke-width="2.4" stroke-linejoin="round"/>
<path d="M548.5,517.5L562.8,516.5L561.7,524L556.2,531.6L549.6,531.6Z" fill="#ffffff" stroke="none"/>
<g transform="translate(417.7,215.5) rotate(-38)"><rect x="-14.6" y="-3.5" width="29.2" height="7.0" fill="#d93328"/><text x="0" y="7.4" font-size="20.5" text-anchor="middle">30</text></g>
<g transform="translate(187.5,305) rotate(0)"><rect x="-14.6" y="-3.5" width="29.2" height="7.0" fill="#e85337"/><text x="0" y="7.4" font-size="20.5" text-anchor="middle">29</text></g>
<g transform="translate(480.8,263.8) rotate(-68)"><rect x="-14.6" y="-3.5" width="29.2" height="7.0" fill="#f57446"/><text x="0" y="7.4" font-size="20.5" text-anchor="middle">27</text></g>
<g transform="translate(297,426) rotate(-60)"><rect x="-14.6" y="-3.5" width="29.2" height="7.0" fill="#f57446"/><text x="0" y="7.4" font-size="20.5" text-anchor="middle">27</text></g>
<g transform="translate(292.5,470) rotate(0)"><rect x="-14.6" y="-3.5" width="29.2" height="7.0" fill="#f57446"/><text x="0" y="7.4" font-size="20.5" text-anchor="middle">28</text></g>
<g transform="translate(422,449) rotate(-5)"><rect x="-14.6" y="-3.5" width="29.2" height="7.0" fill="#e85337"/><text x="0" y="7.4" font-size="20.5" text-anchor="middle">29</text></g>
<g transform="translate(150,540) rotate(-70)"><rect x="-14.6" y="-3.5" width="29.2" height="7.0" fill="#f57446"/><text x="0" y="7.4" font-size="20.5" text-anchor="middle">28</text></g>
<g transform="translate(367,598) rotate(-62)"><rect x="-14.6" y="-3.5" width="29.2" height="7.0" fill="#e85337"/><text x="0" y="7.4" font-size="20.5" text-anchor="middle">29</text></g>
<g transform="translate(413,818) rotate(-60)"><rect x="-14.6" y="-3.5" width="29.2" height="7.0" fill="#f57446"/><text x="0" y="7.4" font-size="20.5" text-anchor="middle">28</text></g>
<g transform="translate(218,666) rotate(0)"><rect x="-14.6" y="-3.5" width="29.2" height="7.0" fill="#e85337"/><text x="0" y="7.4" font-size="20.5" text-anchor="middle">28</text></g>
<g transform="translate(220,939) rotate(0)"><rect x="-14.6" y="-3.5" width="29.2" height="7.0" fill="#fa9656"/><text x="0" y="7.4" font-size="20.5" text-anchor="middle">27</text></g>
<g transform="translate(495.7,1050) rotate(35)"><rect x="-14.6" y="-3.5" width="29.2" height="7.0" fill="#fdb668"/><text x="0" y="7.4" font-size="20.5" text-anchor="middle">26</text></g>
<g transform="translate(220,1100) rotate(0)"><rect x="-14.6" y="-3.5" width="29.2" height="7.0" fill="#fed081"/><text x="0" y="7.4" font-size="20.5" text-anchor="middle">25</text></g>
<g transform="translate(518.5,868) rotate(0)"><rect x="-14.6" y="-3.5" width="29.2" height="7.0" fill="#fa9656"/><text x="0" y="7.4" font-size="20.5" text-anchor="middle">27</text></g>
<g transform="translate(535,1039) rotate(-72)"><rect x="-14.6" y="-3.5" width="29.2" height="7.0" fill="#fa9656"/><text x="0" y="7.4" font-size="20.5" text-anchor="middle">27</text></g>
<g transform="translate(510,928) rotate(-70)"><rect x="-14.6" y="-3.5" width="29.2" height="7.0" fill="#fa9656"/><text x="0" y="7.4" font-size="20.5" text-anchor="middle">27</text></g>
<g transform="translate(588,907) rotate(-62)"><rect x="-14.6" y="-3.5" width="29.2" height="7.0" fill="#fed081"/><text x="0" y="7.4" font-size="20.5" text-anchor="middle">25</text></g>
<g transform="translate(662,921) rotate(-62)"><rect x="-14.6" y="-3.5" width="29.2" height="7.0" fill="#e7f6ec"/><text x="0" y="7.4" font-size="20.5" text-anchor="middle">21</text></g>
<g transform="translate(662,959) rotate(-55)"><rect x="-14.6" y="-3.5" width="29.2" height="7.0" fill="#f7fcce"/><text x="0" y="7.4" font-size="20.5" text-anchor="middle">22</text></g>
<g transform="translate(657.8,1006.7) rotate(-62)"><rect x="-14.6" y="-3.5" width="29.2" height="7.0" fill="#fee79a"/><text x="0" y="7.4" font-size="20.5" text-anchor="middle">24</text></g>
<g transform="translate(719,1093) rotate(0)"><rect x="-14.6" y="-3.5" width="29.2" height="7.0" fill="#fff7b3"/><text x="0" y="7.4" font-size="20.5" text-anchor="middle">23</text></g>
<g transform="translate(483,1099) rotate(0)"><rect x="-14.6" y="-3.5" width="29.2" height="7.0" fill="#fdb668"/><text x="0" y="7.4" font-size="20.5" text-anchor="middle">25</text></g>
<g transform="translate(474.5,1143.5) rotate(-90)"><rect x="-14.6" y="-3.5" width="29.2" height="7.0" fill="#fdb668"/><text x="0" y="7.4" font-size="20.5" text-anchor="middle">25</text></g>
<g transform="translate(504.5,1217.5) rotate(0)"><rect x="-14.6" y="-3.5" width="29.2" height="7.0" fill="#fee79a"/><text x="0" y="7.4" font-size="20.5" text-anchor="middle">24</text></g>
<g transform="translate(326,1259) rotate(35)"><rect x="-14.6" y="-3.5" width="29.2" height="7.0" fill="#fee79a"/><text x="0" y="7.4" font-size="20.5" text-anchor="middle">24</text></g>
<g transform="translate(414,1261) rotate(-70)"><rect x="-14.6" y="-3.5" width="29.2" height="7.0" fill="#fee79a"/><text x="0" y="7.4" font-size="20.5" text-anchor="middle">24</text></g>
<g transform="translate(502,1276) rotate(-55)"><rect x="-14.6" y="-3.5" width="29.2" height="7.0" fill="#fee79a"/><text x="0" y="7.4" font-size="20.5" text-anchor="middle">24</text></g>
<g transform="translate(688,1275) rotate(55)"><rect x="-14.6" y="-3.5" width="29.2" height="7.0" fill="#fee79a"/><text x="0" y="7.4" font-size="20.5" text-anchor="middle">24</text></g>
<g transform="translate(881,1172) rotate(-60)"><rect x="-14.6" y="-3.5" width="29.2" height="7.0" fill="#fdb668"/><text x="0" y="7.4" font-size="20.5" text-anchor="middle">26</text></g>
<g transform="translate(900,1205) rotate(0)"><rect x="-14.6" y="-3.5" width="29.2" height="7.0" fill="#fdb668"/><text x="0" y="7.4" font-size="20.5" text-anchor="middle">26</text></g>
<g transform="translate(861,1280) rotate(0)"><rect x="-14.6" y="-3.5" width="29.2" height="7.0" fill="#fed081"/><text x="0" y="7.4" font-size="20.5" text-anchor="middle">25</text></g>
<g transform="translate(963,1278) rotate(-20)"><rect x="-14.6" y="-3.5" width="29.2" height="7.0" fill="#fdb668"/><text x="0" y="7.4" font-size="20.5" text-anchor="middle">26</text></g>
<g transform="translate(659,228) rotate(-20)"><rect x="-14.6" y="-3.5" width="29.2" height="7.0" fill="#f57446"/><text x="0" y="7.4" font-size="20.5" text-anchor="middle">28</text></g>
<g transform="translate(639,268) rotate(-15)"><rect x="-14.6" y="-3.5" width="29.2" height="7.0" fill="#f57446"/><text x="0" y="7.4" font-size="20.5" text-anchor="middle">28</text></g>
<g transform="translate(563,346) rotate(-70)"><rect x="-14.6" y="-3.5" width="29.2" height="7.0" fill="#fa9656"/><text x="0" y="7.4" font-size="20.5" text-anchor="middle">27</text></g>
<g transform="translate(576,192) rotate(-30)"><rect x="-14.6" y="-3.5" width="29.2" height="7.0" fill="#fdb668"/><text x="0" y="7.4" font-size="20.5" text-anchor="middle">26</text></g>
<g transform="translate(476,503) rotate(-65)"><rect x="-14.6" y="-3.5" width="29.2" height="7.0" fill="#f57446"/><text x="0" y="7.4" font-size="20.5" text-anchor="middle">27</text></g>
<g transform="translate(525,528) rotate(-60)"><rect x="-14.6" y="-3.5" width="29.2" height="7.0" fill="#e85337"/><text x="0" y="7.4" font-size="20.5" text-anchor="middle">28</text></g>
<path d="M253.3,182V1292M385.1,182V1292M516.9,182V1292M648.6,182V1292M780.4,182V1292M912.2,182V1292M121,400.1H1044M121,618.6H1044M121,838.6H1044M121,1062.2H1044" stroke="#808080" stroke-opacity="0.55" stroke-width="1.9" stroke-dasharray="16,4,2.8,4" fill="none"/>
<path d="M676.0,170.0L676.0,182.5L678.6,192.7L676.0,205.3L678.6,213.0L684.0,218.0L682.4,221.8L688.7,229.4L683.6,234.5L681.1,243.4L676.0,252.2L668.4,259.8L663.4,268.7L658.3,276.3L654.5,281.4L643.1,283.9L631.7,285.2L625.3,291.5L620.3,300.4L617.7,306.7L620.3,313.1L622.8,319.4L612.7,324.5L605.1,329.6L607.6,335.9L600.0,339.7L599.5,347.5L587.0,352.5L572.0,357.5L559.5,365.0L557.0,385.0L554.5,400.0L542.0,415.0L539.5,427.5L532.0,430.0L522.0,440.0L520.9,446.6L525.3,454.4L526.4,462.1L523.1,468.7L526.4,477.5L527.5,484.2L525.3,488.6L520.9,491.9L517.5,494.1L519.7,497.4L526.4,501.8L529.7,506.2L537.4,511.8L546.2,517.3L557.3,516.2L566.1,515.1L570.5,508.5L571.6,511.8L568.3,519.5L563.9,528.3L559.5,537.2L556.2,542.7L546.2,549.3L537.4,552.6L529.7,557.0L524.2,561.5L519.7,565.9L515.3,572.5L512.0,580.0L506.7,585.6L502.5,592.7L502.5,602.6L506.7,609.7L511.0,616.8L512.4,621.0L505.3,626.0L509.5,639.1L516.6,643.9L518.9,651.0L514.2,658.1L509.5,662.8L511.8,669.9L521.3,674.6L521.3,684.1L535.5,684.1L549.7,691.2L561.5,698.3L570.4,709.8L577.0,722.0L581.5,733.0L587.0,741.8L599.4,754.2L606.5,765.6L613.6,776.9L617.8,789.7L620.7,798.2L627.8,808.1L633.4,819.5L639.1,832.3L644.8,845.1L653.3,860.7L659.4,874.2L664.1,888.4L670.4,899.4L678.3,907.3L683.0,916.8L684.6,927.8L686.2,932.6L694.1,938.9L700.6,945.2L705.6,955.3L710.7,964.2L715.7,973.0L722.0,980.6L725.8,988.1L727.1,995.7L727.7,1003.3L723.3,1008.3L722.0,1013.4L724.5,1021.0L728.3,1028.5L733.4,1036.1L738.4,1043.7L744.7,1050.0L753.6,1056.3L763.7,1063.8L771.5,1076.5L790.5,1090.0L803.1,1096.8L818.2,1105.6L830.9,1114.4L843.5,1117.0L853.6,1123.3L866.2,1130.9L878.8,1138.4L891.4,1143.5L902.0,1150.0L919.5,1156.0L927.5,1160.0L935.2,1168.8L941.8,1182.1L951.8,1193.1L962.8,1202.0L973.9,1209.7L983.8,1217.4L983.8,1226.2L984.9,1237.3L987.1,1248.3L989.3,1259.4L991.5,1270.4L993.7,1281.5L993.7,1291.0L994.0,1310.0L1060.0,1310.0L1060.0,170.0Z" fill="#efefdb" stroke="none"/>
<path d="M676.0,170.0L676.0,182.5L678.6,192.7L676.0,205.3L678.6,213.0L684.0,218.0L682.4,221.8L688.7,229.4L683.6,234.5L681.1,243.4L676.0,252.2L668.4,259.8L663.4,268.7L658.3,276.3L654.5,281.4L643.1,283.9L631.7,285.2L625.3,291.5L620.3,300.4L617.7,306.7L620.3,313.1L622.8,319.4L612.7,324.5L605.1,329.6L607.6,335.9L600.0,339.7L599.5,347.5L587.0,352.5L572.0,357.5L559.5,365.0L557.0,385.0L554.5,400.0L542.0,415.0L539.5,427.5L532.0,430.0L522.0,440.0L520.9,446.6L525.3,454.4L526.4,462.1L523.1,468.7L526.4,477.5L527.5,484.2L525.3,488.6L520.9,491.9L517.5,494.1L519.7,497.4L526.4,501.8L529.7,506.2L537.4,511.8L546.2,517.3L557.3,516.2L566.1,515.1L570.5,508.5L571.6,511.8L568.3,519.5L563.9,528.3L559.5,537.2L556.2,542.7L546.2,549.3L537.4,552.6L529.7,557.0L524.2,561.5L519.7,565.9L515.3,572.5L512.0,580.0L506.7,585.6L502.5,592.7L502.5,602.6L506.7,609.7L511.0,616.8L512.4,621.0L505.3,626.0L509.5,639.1L516.6,643.9L518.9,651.0L514.2,658.1L509.5,662.8L511.8,669.9L521.3,674.6L521.3,684.1L535.5,684.1L549.7,691.2L561.5,698.3L570.4,709.8L577.0,722.0L581.5,733.0L587.0,741.8L599.4,754.2L606.5,765.6L613.6,776.9L617.8,789.7L620.7,798.2L627.8,808.1L633.4,819.5L639.1,832.3L644.8,845.1L653.3,860.7L659.4,874.2L664.1,888.4L670.4,899.4L678.3,907.3L683.0,916.8L684.6,927.8L686.2,932.6L694.1,938.9L700.6,945.2L705.6,955.3L710.7,964.2L715.7,973.0L722.0,980.6L725.8,988.1L727.1,995.7L727.7,1003.3L723.3,1008.3L722.0,1013.4L724.5,1021.0L728.3,1028.5L733.4,1036.1L738.4,1043.7L744.7,1050.0L753.6,1056.3L763.7,1063.8L771.5,1076.5L790.5,1090.0L803.1,1096.8L818.2,1105.6L830.9,1114.4L843.5,1117.0L853.6,1123.3L866.2,1130.9L878.8,1138.4L891.4,1143.5L902.0,1150.0L919.5,1156.0L927.5,1160.0L935.2,1168.8L941.8,1182.1L951.8,1193.1L962.8,1202.0L973.9,1209.7L983.8,1217.4L983.8,1226.2L984.9,1237.3L987.1,1248.3L989.3,1259.4L991.5,1270.4L993.7,1281.5L993.7,1291.0L994.0,1310.0" fill="none" stroke="#000" stroke-width="1.6" stroke-linejoin="round"/>
<path d="M609.5,340.0L617.0,345.0L637.0,355.0L657.0,365.0L672.0,375.0L674.5,385.0L687.0,387.5L712.0,387.5L722.0,380.0L737.0,390.0L744.5,395.0L752.0,397.5L762.0,402.5L769.5,401.2L777.0,405.0L787.0,408.8L792.0,415.0L802.0,421.2L807.0,427.5L809.5,440.0L817.0,443.8L827.0,450.0L834.5,452.5L842.0,457.5L844.5,467.5L849.5,475.0L857.0,477.5L859.5,487.5L859.5,497.5L869.5,503.8L882.0,502.5L897.0,505.0L912.0,500.0L922.0,493.8L932.0,497.5L939.5,501.2L952.0,497.5L959.5,496.2L969.5,503.8L982.0,507.5L994.5,517.5L987.0,535.0L967.0,563.8L977.0,568.8L987.0,567.5L992.0,577.5L1000.8,585.0" fill="none" stroke="#000" stroke-width="1.3" stroke-dasharray="4.5,2.5"/>
<path d="M752.0,406.2L759.5,410.0L767.0,422.5L767.0,440.0L762.0,441.2L754.5,465.0L742.0,480.0L727.0,495.0L712.0,505.0L687.0,517.5L649.5,530.0L637.0,547.5L632.0,555.0L627.0,572.5L617.0,597.5L607.0,605.0L599.5,617.5L589.5,615.0L582.0,597.5L572.0,592.5L557.0,587.5L544.5,592.5L539.5,585.0L539.5,575.0L549.5,565.0L551.8,568.0L546.2,549.3" fill="none" stroke="#000" stroke-width="1.3" stroke-dasharray="4.5,2.5"/>
<path d="M1044.0,324.5L1019.5,322.5L1005.8,325.0L1005.8,352.5L1027.0,353.8L1035.8,362.5L1037.0,371.2L1022.0,368.8L997.0,373.8L995.8,405.0L1002.0,413.8L1014.5,421.2L1017.0,440.0L1024.5,450.0L1020.8,480.0L1015.8,510.0L1010.8,535.0L1000.8,585.0" fill="none" stroke="#000" stroke-width="1.3" stroke-dasharray="4.5,2.5"/>
<path d="M1000.8,585.0L989.5,585.0L984.5,581.2L962.0,581.2L959.5,588.8L939.5,592.5L917.0,596.2L897.0,607.5L882.0,620.0L870.8,623.8L869.5,640.0L867.0,650.0L857.0,665.0L859.5,680.0L852.0,686.2L834.5,697.5L832.0,710.0L834.5,720.0L824.5,721.2L823.2,730.0L834.5,740.0L834.5,747.5L842.0,760.0L849.5,770.0L857.0,780.0L867.0,790.0L868.2,800.0L859.5,811.2L872.0,811.2L892.0,815.0L899.5,825.0L902.0,837.5L942.0,837.5L952.0,828.8L962.0,821.2L974.5,812.5L973.2,825.0L970.8,835.0L970.8,880.0L977.0,881.2L987.0,885.0L1002.0,880.0L1017.0,881.2L1044.0,882.5" fill="none" stroke="#000" stroke-width="1.3" stroke-dasharray="4.5,2.5"/>
<path d="M1017.0,881.2L1022.0,890.0L1032.0,905.0L1042.0,922.5L1045.0,930.0" fill="none" stroke="#000" stroke-width="1.3" stroke-dasharray="4.5,2.5"/>
<path d="M1045.0,1000.0L1039.5,1002.0L1036.0,1015.0L1030.0,1035.0L1027.0,1052.5L1025.0,1070.0L1024.5,1090.0L1030.0,1105.0L1034.5,1115.0L1044.0,1118.0" fill="none" stroke="#000" stroke-width="1.3" stroke-dasharray="4.5,2.5"/>
<path d="M1044.0,1130.0L1037.0,1137.5L1027.0,1150.0L1014.5,1162.5L1017.0,1175.0L1004.5,1182.5L1007.0,1195.0L999.5,1207.5L984.5,1213.8" fill="none" stroke="#000" stroke-width="1.3" stroke-dasharray="4.5,2.5"/>
<path d="M1019.5,1175.0L1034.5,1197.5L1037.0,1210.0L1039.5,1230.0L1044.0,1250.0" fill="none" stroke="#000" stroke-width="1.3" stroke-dasharray="4.5,2.5"/>
<text x="518.2" y="617.5" font-size="29.17">Paita</text>
<circle cx="583.7" cy="736.4" r="4.3" fill="#000"/>
<text x="588" y="731.5" font-size="29.17">Chicama</text>
<circle cx="620.7" cy="798.7" r="4.3" fill="#000"/>
<text x="625" y="793" font-size="29.17">Chimbote</text>
<circle cx="659.4" cy="874.2" r="4.3" fill="#000"/>
<text x="665" y="869" font-size="29.17">Supe</text>
<circle cx="686.2" cy="932.6" r="4.3" fill="#000"/>
<text x="691" y="926" font-size="29.17">Callao</text>
<circle cx="727.5" cy="1003.7" r="4.3" fill="#000"/>
<text x="732.5" y="999" font-size="29.17">Pisco</text>
<circle cx="771.5" cy="1079.5" r="4.3" fill="#000"/>
<text x="777" y="1074" font-size="29.17">San Juan</text>
<circle cx="844.3" cy="1117.2" r="4.3" fill="#000"/>
<text x="850.5" y="1112.5" font-size="29.17">Atico</text>
<circle cx="939.5" cy="1181.3" r="4.3" fill="#000"/>
<text x="946" y="1176.5" font-size="29.17">Ilo</text>
</g>
<rect x="121.5" y="182.0" width="922.3" height="1109.2" fill="none" stroke="#000" stroke-width="2.8"/>
<text x="253.3" y="1334" text-anchor="middle" font-size="29.17">87°W</text>
<text x="385.1" y="1334" text-anchor="middle" font-size="29.17">84°W</text>
<text x="516.9" y="1334" text-anchor="middle" font-size="29.17">81°W</text>
<text x="648.6" y="1334" text-anchor="middle" font-size="29.17">78°W</text>
<text x="780.4" y="1334" text-anchor="middle" font-size="29.17">75°W</text>
<text x="912.2" y="1334" text-anchor="middle" font-size="29.17">72°W</text>
<text x="99.5" y="407.6" text-anchor="end" font-size="29.17">0°</text>
<text x="99.5" y="626.1" text-anchor="end" font-size="29.17">5°S</text>
<text x="99.5" y="846.1" text-anchor="end" font-size="29.17">10°S</text>
<text x="99.5" y="1069.7" text-anchor="end" font-size="29.17">15°S</text>
<rect x="1117.7" y="1235.27" width="56.0" height="56.04" fill="#313695"/>
<rect x="1117.7" y="1179.83" width="56.0" height="56.04" fill="#3c57a5"/>
<rect x="1117.7" y="1124.40" width="56.0" height="56.04" fill="#4778b6"/>
<rect x="1117.7" y="1068.96" width="56.0" height="56.04" fill="#6095c5"/>
<rect x="1117.7" y="1013.53" width="56.0" height="56.04" fill="#7ab2d4"/>
<rect x="1117.7" y="958.09" width="56.0" height="56.04" fill="#97c9e0"/>
<rect x="1117.7" y="902.65" width="56.0" height="56.04" fill="#b3ddeb"/>
<rect x="1117.7" y="847.22" width="56.0" height="56.04" fill="#cfebf3"/>
<rect x="1117.7" y="791.79" width="56.0" height="56.04" fill="#e7f6ec"/>
<rect x="1117.7" y="736.35" width="56.0" height="56.04" fill="#f7fcce"/>
<rect x="1117.7" y="680.91" width="56.0" height="56.04" fill="#fff7b3"/>
<rect x="1117.7" y="625.48" width="56.0" height="56.04" fill="#fee79a"/>
<rect x="1117.7" y="570.05" width="56.0" height="56.04" fill="#fed081"/>
<rect x="1117.7" y="514.61" width="56.0" height="56.04" fill="#fdb668"/>
<rect x="1117.7" y="459.17" width="56.0" height="56.04" fill="#fa9656"/>
<rect x="1117.7" y="403.74" width="56.0" height="56.04" fill="#f57446"/>
<rect x="1117.7" y="348.30" width="56.0" height="56.04" fill="#e85337"/>
<rect x="1117.7" y="292.87" width="56.0" height="56.04" fill="#d93328"/>
<rect x="1117.7" y="237.43" width="56.0" height="56.04" fill="#bf1927"/>
<rect x="1117.7" y="182.00" width="56.0" height="56.04" fill="#a50026"/>
<rect x="1117.7" y="182.3" width="56.0" height="1108.7" fill="none" stroke="#000" stroke-width="2.8"/>
<line x1="1173.7" y1="1291.00" x2="1188.3" y2="1291.00" stroke="#000" stroke-width="2.9"/>
<text x="1202" y="1301.60" font-size="29.17">12</text>
<line x1="1173.7" y1="1235.57" x2="1188.3" y2="1235.57" stroke="#000" stroke-width="2.9"/>
<text x="1202" y="1246.16" font-size="29.17">13</text>
<line x1="1173.7" y1="1180.13" x2="1188.3" y2="1180.13" stroke="#000" stroke-width="2.9"/>
<text x="1202" y="1190.73" font-size="29.17">14</text>
<line x1="1173.7" y1="1124.69" x2="1188.3" y2="1124.69" stroke="#000" stroke-width="2.9"/>
<text x="1202" y="1135.29" font-size="29.17">15</text>
<line x1="1173.7" y1="1069.26" x2="1188.3" y2="1069.26" stroke="#000" stroke-width="2.9"/>
<text x="1202" y="1079.86" font-size="29.17">16</text>
<line x1="1173.7" y1="1013.83" x2="1188.3" y2="1013.83" stroke="#000" stroke-width="2.9"/>
<text x="1202" y="1024.42" font-size="29.17">17</text>
<line x1="1173.7" y1="958.39" x2="1188.3" y2="958.39" stroke="#000" stroke-width="2.9"/>
<text x="1202" y="968.99" font-size="29.17">18</text>
<line x1="1173.7" y1="902.95" x2="1188.3" y2="902.95" stroke="#000" stroke-width="2.9"/>
<text x="1202" y="913.55" font-size="29.17">19</text>
<line x1="1173.7" y1="847.52" x2="1188.3" y2="847.52" stroke="#000" stroke-width="2.9"/>
<text x="1202" y="858.12" font-size="29.17">20</text>
<line x1="1173.7" y1="792.09" x2="1188.3" y2="792.09" stroke="#000" stroke-width="2.9"/>
<text x="1202" y="802.69" font-size="29.17">21</text>
<line x1="1173.7" y1="736.65" x2="1188.3" y2="736.65" stroke="#000" stroke-width="2.9"/>
<text x="1202" y="747.25" font-size="29.17">22</text>
<line x1="1173.7" y1="681.21" x2="1188.3" y2="681.21" stroke="#000" stroke-width="2.9"/>
<text x="1202" y="691.81" font-size="29.17">23</text>
<line x1="1173.7" y1="625.78" x2="1188.3" y2="625.78" stroke="#000" stroke-width="2.9"/>
<text x="1202" y="636.38" font-size="29.17">24</text>
<line x1="1173.7" y1="570.35" x2="1188.3" y2="570.35" stroke="#000" stroke-width="2.9"/>
<text x="1202" y="580.95" font-size="29.17">25</text>
<line x1="1173.7" y1="514.91" x2="1188.3" y2="514.91" stroke="#000" stroke-width="2.9"/>
<text x="1202" y="525.51" font-size="29.17">26</text>
<line x1="1173.7" y1="459.47" x2="1188.3" y2="459.47" stroke="#000" stroke-width="2.9"/>
<text x="1202" y="470.07" font-size="29.17">27</text>
<line x1="1173.7" y1="404.04" x2="1188.3" y2="404.04" stroke="#000" stroke-width="2.9"/>
<text x="1202" y="414.64" font-size="29.17">28</text>
<line x1="1173.7" y1="348.61" x2="1188.3" y2="348.61" stroke="#000" stroke-width="2.9"/>
<text x="1202" y="359.21" font-size="29.17">29</text>
<line x1="1173.7" y1="293.17" x2="1188.3" y2="293.17" stroke="#000" stroke-width="2.9"/>
<text x="1202" y="303.77" font-size="29.17">30</text>
<line x1="1173.7" y1="237.73" x2="1188.3" y2="237.73" stroke="#000" stroke-width="2.9"/>
<text x="1202" y="248.33" font-size="29.17">31</text>
<line x1="1173.7" y1="182.30" x2="1188.3" y2="182.30" stroke="#000" stroke-width="2.9"/>
<text x="1202" y="192.90" font-size="29.17">32</text>
<text x="1116" y="157.5" font-size="50.3">ºC</text>
</svg>
</body></html>
